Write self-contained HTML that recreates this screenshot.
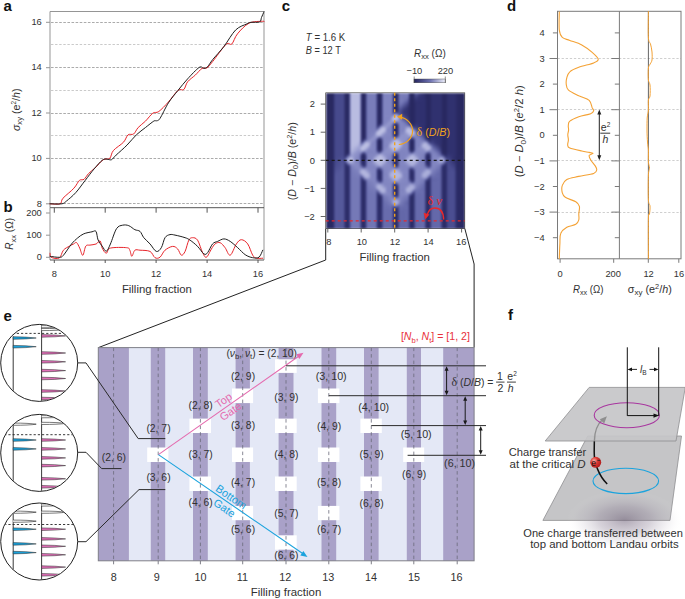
<!DOCTYPE html>
<html><head><meta charset="utf-8"><style>
html,body{margin:0;padding:0;background:#fff;}
#wrap{position:relative;width:685px;height:599px;overflow:hidden;background:#fff;}
svg{position:absolute;left:0;top:0;display:block;font-family:"Liberation Sans", sans-serif;}
</style></head><body><div id="wrap">
<div style="position:absolute;left:326px;top:93px;width:139px;height:136px;overflow:hidden"><div style="filter:blur(1.1px);margin:0"><div style="height:2px;background:linear-gradient(90deg,#2a2a63 0.0px,#282860 6.5px,#2c2c67 7.5px,#3e4182 8.5px,#474a8d 9.5px,#474a8d 16.5px,#474a8d 17.5px,#2a2a63 19.5px,#282860 22.5px,#3e4182 23.5px,#9ea2d3 24.5px,#b9bce1 25.5px,#b9bce1 33.5px,#8a8ec7 34.5px,#30306f 35.5px,#282860 36.5px,#282860 38.5px,#2e2f6c 39.5px,#5c60a2 40.5px,#797dba 41.5px,#797dba 49.5px,#5f62a5 50.5px,#2f306d 51.5px,#282860 52.5px,#282860 54.5px,#2c2d69 55.5px,#585c9e 56.5px,#8185c1 57.5px,#8185c1 65.5px,#6e72b1 66.5px,#343675 67.5px,#282860 68.5px,#2a2b65 71.5px,#4a4d90 72.5px,#787cba 73.5px,#797dba 74.5px,#797dba 81.5px,#6e72b2 82.5px,#393b7b 83.5px,#282860 84.5px,#292962 87.5px,#3a3c7d 88.5px,#565a9c 89.5px,#3a3c7d 94.5px,#282860 100.5px,#282860 103.5px,#30316f 106.5px,#30316f 114.5px,#282860 117.5px,#282860 119.5px,#30316f 122.5px,#30316f 128.5px,#282860 132.5px,#292962 139.0px)"></div><div style="height:2px;background:linear-gradient(90deg,#2a2a63 0.0px,#282860 6.5px,#2c2c67 7.5px,#3e4182 8.5px,#474a8d 9.5px,#474a8d 16.5px,#474a8d 17.5px,#2a2a63 19.5px,#282860 22.5px,#3e4182 23.5px,#9ea2d3 24.5px,#b9bce1 25.5px,#b9bce1 33.5px,#8a8ec7 34.5px,#30306f 35.5px,#282860 36.5px,#282860 38.5px,#2e2f6c 39.5px,#5c60a2 40.5px,#797dba 41.5px,#797dba 49.5px,#5f62a5 50.5px,#2f306d 51.5px,#282860 52.5px,#282860 54.5px,#2c2d69 55.5px,#585c9e 56.5px,#8185c1 57.5px,#8185c1 65.5px,#6e72b1 66.5px,#343675 67.5px,#282860 68.5px,#2a2b65 71.5px,#4a4d90 72.5px,#787cba 73.5px,#797dba 74.5px,#787cba 81.5px,#6b6faf 82.5px,#373979 83.5px,#282860 84.5px,#292962 87.5px,#484b8d 89.5px,#333473 94.5px,#2f306f 98.5px,#282860 100.5px,#282860 103.5px,#30316f 106.5px,#30316f 114.5px,#282860 117.5px,#282860 119.5px,#30316f 122.5px,#30316f 128.5px,#282860 132.5px,#292962 139.0px)"></div><div style="height:2px;background:linear-gradient(90deg,#2a2a63 0.0px,#282860 6.5px,#2c2c67 7.5px,#3e4182 8.5px,#474a8d 9.5px,#474a8d 16.5px,#474a8d 17.5px,#2a2a63 19.5px,#282860 22.5px,#3e4182 23.5px,#9ea2d3 24.5px,#b9bce1 25.5px,#b9bce1 33.5px,#8a8ec7 34.5px,#30306f 35.5px,#282860 36.5px,#282860 38.5px,#2e2f6c 39.5px,#5c60a2 40.5px,#797dba 41.5px,#797dba 49.5px,#5f62a5 50.5px,#2f306d 51.5px,#282860 52.5px,#282860 54.5px,#2c2d69 55.5px,#585c9e 56.5px,#8185c1 57.5px,#8185c1 65.5px,#6e72b1 66.5px,#343675 67.5px,#282860 68.5px,#2a2b65 71.5px,#4a4d90 72.5px,#787cba 73.5px,#797dba 74.5px,#7175b4 81.5px,#6265a8 82.5px,#343575 83.5px,#282860 84.5px,#292961 87.5px,#3c3f80 89.5px,#303170 93.5px,#2f306f 98.5px,#282860 100.5px,#282860 103.5px,#30316f 106.5px,#30316f 114.5px,#282860 117.5px,#282860 119.5px,#30316f 122.5px,#30316f 128.5px,#282860 132.5px,#292962 139.0px)"></div><div style="height:2px;background:linear-gradient(90deg,#2a2a63 0.0px,#282860 6.5px,#2c2c67 7.5px,#3e4182 8.5px,#474a8d 9.5px,#474a8d 16.5px,#474a8d 17.5px,#2a2a63 19.5px,#282860 22.5px,#3e4182 23.5px,#9ea2d3 24.5px,#b9bce1 25.5px,#b9bce1 33.5px,#8a8ec7 34.5px,#30306f 35.5px,#282860 36.5px,#282860 38.5px,#2e2f6c 39.5px,#5c60a2 40.5px,#797dba 41.5px,#797dba 49.5px,#5f62a5 50.5px,#2f306d 51.5px,#282860 52.5px,#282860 54.5px,#2c2d69 55.5px,#585c9e 56.5px,#8185c1 57.5px,#8185c1 65.5px,#6e72b1 66.5px,#343675 67.5px,#282860 68.5px,#2a2b65 71.5px,#4a4d90 72.5px,#787cba 73.5px,#797dba 74.5px,#7579b7 78.5px,#6468a9 81.5px,#55599b 82.5px,#303170 83.5px,#282860 84.5px,#282961 87.5px,#343575 89.5px,#2f306f 98.5px,#282860 101.5px,#282860 103.5px,#30316f 106.5px,#30316f 114.5px,#282860 117.5px,#282860 119.5px,#30316f 122.5px,#30316f 128.5px,#282860 132.5px,#292962 139.0px)"></div><div style="height:2px;background:linear-gradient(90deg,#2a2a63 0.0px,#282860 6.5px,#2c2c67 7.5px,#3e4182 8.5px,#474a8d 9.5px,#474a8d 16.5px,#474a8d 17.5px,#2a2a63 19.5px,#282860 22.5px,#3e4182 23.5px,#9ea2d3 24.5px,#b9bce1 25.5px,#b9bce1 33.5px,#8a8ec7 34.5px,#30306f 35.5px,#282860 36.5px,#282860 38.5px,#2e2f6c 39.5px,#5c60a2 40.5px,#797dba 41.5px,#797dba 49.5px,#5f62a5 50.5px,#2f306d 51.5px,#282860 52.5px,#282860 54.5px,#2c2d69 55.5px,#585c9e 56.5px,#8185c1 57.5px,#8185c1 65.5px,#6e72b1 66.5px,#343675 67.5px,#282860 68.5px,#2a2b65 71.5px,#4a4d90 72.5px,#787cba 73.5px,#797dba 74.5px,#6f73b3 77.5px,#55589b 81.5px,#484b8d 82.5px,#2e2f6d 83.5px,#282860 84.5px,#282861 87.5px,#30316f 89.5px,#2f306f 98.5px,#282860 101.5px,#282860 103.5px,#30316f 106.5px,#30316f 114.5px,#282860 117.5px,#282860 119.5px,#30316f 122.5px,#30316f 128.5px,#282860 132.5px,#292962 139.0px)"></div><div style="height:2px;background:linear-gradient(90deg,#2a2a63 0.0px,#282860 6.5px,#2c2c67 7.5px,#3e4182 8.5px,#474a8d 9.5px,#474a8d 16.5px,#474a8d 17.5px,#2a2a63 19.5px,#282860 22.5px,#3e4182 23.5px,#9ea2d3 24.5px,#b9bce1 25.5px,#b9bce1 33.5px,#8a8ec7 34.5px,#30306f 35.5px,#282860 36.5px,#282860 38.5px,#2e2f6c 39.5px,#5c60a2 40.5px,#797dba 41.5px,#797dba 49.5px,#5f62a5 50.5px,#2f306d 51.5px,#282860 52.5px,#282860 54.5px,#2c2d69 55.5px,#585c9e 56.5px,#8185c1 57.5px,#8185c1 65.5px,#6e72b1 66.5px,#343675 67.5px,#282860 68.5px,#2a2b65 71.5px,#4a4d90 72.5px,#767ab8 73.5px,#686cad 76.5px,#46488b 81.5px,#3d3f80 82.5px,#2d2d6a 83.5px,#282860 84.5px,#282861 87.5px,#30316f 90.5px,#2f306f 98.5px,#282860 101.5px,#282860 103.5px,#30316f 106.5px,#30316f 114.5px,#282860 117.5px,#282860 119.5px,#30316f 122.5px,#30316f 128.5px,#282860 132.5px,#292962 139.0px)"></div><div style="height:2px;background:linear-gradient(90deg,#2a2a63 0.0px,#282860 6.5px,#2c2c67 7.5px,#3e4182 8.5px,#474a8d 9.5px,#474a8d 16.5px,#474a8d 17.5px,#2a2a63 19.5px,#282860 22.5px,#3e4182 23.5px,#9ea2d3 24.5px,#b9bce1 25.5px,#b9bce1 33.5px,#8a8ec7 34.5px,#30306f 35.5px,#282860 36.5px,#282860 38.5px,#2e2f6c 39.5px,#5c60a2 40.5px,#797dba 41.5px,#797dba 49.5px,#5f62a5 50.5px,#2f306d 51.5px,#282860 52.5px,#282860 54.5px,#2c2d69 55.5px,#585c9e 56.5px,#8185c1 57.5px,#8185c1 65.5px,#6e72b1 66.5px,#343675 67.5px,#282860 68.5px,#2a2b65 71.5px,#6d71b1 73.5px,#3b3d7e 81.5px,#282860 84.5px,#282861 87.5px,#30316f 90.5px,#2f306f 98.5px,#282860 101.5px,#282860 103.5px,#30316f 106.5px,#30316f 114.5px,#282860 117.5px,#282860 119.5px,#30316f 122.5px,#30316f 128.5px,#282860 132.5px,#292962 139.0px)"></div><div style="height:2px;background:linear-gradient(90deg,#2a2a63 0.0px,#282860 6.5px,#2c2c67 7.5px,#3e4182 8.5px,#474a8d 9.5px,#474a8d 16.5px,#474a8d 17.5px,#2a2a63 19.5px,#282860 22.5px,#3e4182 23.5px,#9ea2d3 24.5px,#b9bce1 25.5px,#b9bce1 33.5px,#8a8ec7 34.5px,#30306f 35.5px,#282860 36.5px,#282860 38.5px,#2e2f6c 39.5px,#5c60a2 40.5px,#797dba 41.5px,#797dba 49.5px,#5f62a5 50.5px,#2f306d 51.5px,#282860 52.5px,#282860 54.5px,#2c2d69 55.5px,#585c9e 56.5px,#8185c1 57.5px,#8185c1 65.5px,#6e72b1 66.5px,#343675 67.5px,#282860 68.5px,#2a2a64 71.5px,#5f63a5 73.5px,#3f4183 78.5px,#282860 84.5px,#282861 87.5px,#30316f 90.5px,#2f306f 98.5px,#282860 101.5px,#282860 103.5px,#30316f 106.5px,#30316f 114.5px,#282860 117.5px,#282860 119.5px,#30316f 122.5px,#30316f 128.5px,#282860 132.5px,#292962 139.0px)"></div><div style="height:2px;background:linear-gradient(90deg,#2a2a63 0.0px,#282860 6.5px,#2c2c67 7.5px,#3e4182 8.5px,#474a8d 9.5px,#474a8d 16.5px,#474a8d 17.5px,#2a2a63 19.5px,#282860 22.5px,#3e4182 23.5px,#9ea2d3 24.5px,#b9bce1 25.5px,#b9bce1 33.5px,#8a8ec7 34.5px,#30306f 35.5px,#282860 36.5px,#282860 38.5px,#2e2f6c 39.5px,#5c60a2 40.5px,#797dba 41.5px,#797dba 49.5px,#5f62a5 50.5px,#2f306d 51.5px,#282860 52.5px,#282860 54.5px,#2c2d69 55.5px,#585c9e 56.5px,#8185c1 57.5px,#8185c1 65.5px,#6d71b1 66.5px,#343575 67.5px,#292962 68.5px,#2a2a64 71.5px,#55589b 73.5px,#393b7c 77.5px,#2f306e 82.5px,#282860 84.5px,#282861 87.5px,#30316f 90.5px,#2f306f 98.5px,#282860 101.5px,#282860 103.5px,#30316f 106.5px,#30316f 114.5px,#282860 117.5px,#282860 119.5px,#30316f 122.5px,#30316f 128.5px,#282860 132.5px,#292962 139.0px)"></div><div style="height:2px;background:linear-gradient(90deg,#2a2a63 0.0px,#282860 6.5px,#2c2c67 7.5px,#3e4182 8.5px,#474a8d 9.5px,#474a8d 16.5px,#474a8d 17.5px,#2a2a63 19.5px,#282860 22.5px,#3e4182 23.5px,#9ea2d3 24.5px,#b9bce1 25.5px,#b9bce1 33.5px,#8a8ec7 34.5px,#30306f 35.5px,#282860 36.5px,#282860 38.5px,#2e2f6c 39.5px,#5c60a2 40.5px,#797dba 41.5px,#797dba 49.5px,#5f62a5 50.5px,#2f306d 51.5px,#282860 52.5px,#282860 54.5px,#2c2d69 55.5px,#585c9e 56.5px,#8185c1 57.5px,#8185c1 65.5px,#6d71b1 66.5px,#343575 67.5px,#393b7c 69.5px,#333473 71.5px,#515497 73.5px,#343675 77.5px,#2f306e 82.5px,#282860 84.5px,#282861 87.5px,#30316f 90.5px,#2f306f 98.5px,#282860 101.5px,#282860 103.5px,#30316f 106.5px,#30316f 114.5px,#282860 117.5px,#282860 119.5px,#30316f 122.5px,#30316f 128.5px,#282860 132.5px,#292962 139.0px)"></div><div style="height:2px;background:linear-gradient(90deg,#2a2a63 0.0px,#282860 6.5px,#2c2c67 7.5px,#3e4182 8.5px,#474a8d 9.5px,#474a8d 16.5px,#474a8d 17.5px,#2a2a63 19.5px,#282860 22.5px,#3e4182 23.5px,#9ea2d3 24.5px,#b9bce1 25.5px,#b9bce1 33.5px,#8a8ec7 34.5px,#30306f 35.5px,#282860 36.5px,#282860 38.5px,#2e2f6c 39.5px,#5c60a2 40.5px,#797dba 41.5px,#797dba 49.5px,#5f62a5 50.5px,#2f306d 51.5px,#282860 52.5px,#282860 54.5px,#2c2d69 55.5px,#585c9e 56.5px,#8185c1 57.5px,#8185c1 65.5px,#5f62a3 67.5px,#7579b7 68.5px,#7f83be 69.5px,#7c80bc 70.5px,#6c6fae 71.5px,#515597 72.5px,#56599c 73.5px,#393a7b 77.5px,#2f306e 82.5px,#282860 84.5px,#282861 87.5px,#30316f 90.5px,#2f306f 98.5px,#282860 101.5px,#282860 103.5px,#30316f 106.5px,#30316f 114.5px,#282860 117.5px,#282860 119.5px,#30316f 122.5px,#30316f 128.5px,#282860 132.5px,#292962 139.0px)"></div><div style="height:2px;background:linear-gradient(90deg,#2a2a63 0.0px,#282860 6.5px,#2c2c67 7.5px,#3e4182 8.5px,#474a8d 9.5px,#474a8d 16.5px,#474a8d 17.5px,#2a2a63 19.5px,#282860 22.5px,#3e4182 23.5px,#9ea2d3 24.5px,#b9bce1 25.5px,#b9bce1 33.5px,#8a8ec7 34.5px,#30306f 35.5px,#282860 36.5px,#282860 38.5px,#2e2f6c 39.5px,#5c60a2 40.5px,#797dba 41.5px,#797dba 49.5px,#5f62a5 50.5px,#2f306d 51.5px,#282860 52.5px,#282860 54.5px,#2c2d69 55.5px,#585c9e 56.5px,#8185c1 57.5px,#8387c1 66.5px,#b2b5de 68.5px,#b9bde2 69.5px,#b7bae1 70.5px,#a8acd9 71.5px,#9195cb 72.5px,#5a5ea0 74.5px,#3e4082 78.5px,#282860 84.5px,#282861 87.5px,#30316f 90.5px,#2f306f 98.5px,#282860 101.5px,#282860 103.5px,#30316f 106.5px,#30316f 114.5px,#282860 117.5px,#282860 119.5px,#30316f 122.5px,#30316f 128.5px,#282860 132.5px,#292962 139.0px)"></div><div style="height:2px;background:linear-gradient(90deg,#2a2a63 0.0px,#282860 6.5px,#2c2c67 7.5px,#3e4182 8.5px,#474a8d 9.5px,#474a8d 16.5px,#474a8d 17.5px,#2a2a63 19.5px,#282860 22.5px,#3e4182 23.5px,#9ea2d3 24.5px,#b9bce1 25.5px,#b9bce1 33.5px,#8a8ec7 34.5px,#30306f 35.5px,#282860 36.5px,#282860 38.5px,#2e2f6c 39.5px,#5c60a2 40.5px,#797dba 41.5px,#797dba 49.5px,#5f62a5 50.5px,#2f306d 51.5px,#282860 52.5px,#282860 54.5px,#2c2d69 55.5px,#585c9e 56.5px,#8185c1 57.5px,#8185c1 64.5px,#bdc0e4 67.5px,#bec1e4 71.5px,#acb0db 72.5px,#7276b5 74.5px,#6367a8 75.5px,#282860 84.5px,#282861 87.5px,#30316f 90.5px,#2f306f 98.5px,#282860 101.5px,#282860 103.5px,#30316f 106.5px,#30316f 114.5px,#282860 117.5px,#282860 119.5px,#30316f 122.5px,#30316f 128.5px,#282860 132.5px,#292962 139.0px)"></div><div style="height:2px;background:linear-gradient(90deg,#2a2a63 0.0px,#282860 6.5px,#2c2c67 7.5px,#3e4182 8.5px,#474a8d 9.5px,#474a8d 16.5px,#474a8d 17.5px,#2a2a63 19.5px,#282860 22.5px,#3e4182 23.5px,#9ea2d3 24.5px,#b9bce1 25.5px,#b9bce1 33.5px,#8a8ec7 34.5px,#30306f 35.5px,#282860 36.5px,#282860 38.5px,#2e2f6c 39.5px,#5c60a2 40.5px,#797dba 41.5px,#797dba 49.5px,#5f62a5 50.5px,#2f306d 51.5px,#282860 52.5px,#282860 54.5px,#2c2d69 55.5px,#585c9e 56.5px,#8185c1 57.5px,#8286c2 63.5px,#b1b4dd 67.5px,#bcbfe3 69.5px,#7478b7 75.5px,#45488b 81.5px,#3c3e7f 82.5px,#2d2d69 83.5px,#282860 84.5px,#282861 87.5px,#30316f 90.5px,#2f306f 98.5px,#282860 101.5px,#282860 103.5px,#30316f 106.5px,#30316f 114.5px,#282860 117.5px,#282860 119.5px,#30316f 122.5px,#30316f 128.5px,#282860 132.5px,#292962 139.0px)"></div><div style="height:2px;background:linear-gradient(90deg,#2a2a63 0.0px,#282860 6.5px,#2c2c67 7.5px,#3e4182 8.5px,#474a8d 9.5px,#474a8d 16.5px,#474a8d 17.5px,#2a2a63 19.5px,#282860 22.5px,#3e4182 23.5px,#9ea2d3 24.5px,#b9bce1 25.5px,#b9bce1 33.5px,#8a8ec7 34.5px,#30306f 35.5px,#282860 36.5px,#282860 38.5px,#2e2f6c 39.5px,#5c60a2 40.5px,#797dba 41.5px,#797dba 49.5px,#5f62a5 50.5px,#2f306d 51.5px,#282860 52.5px,#282860 54.5px,#2c2d69 55.5px,#585c9e 56.5px,#8185c1 57.5px,#8185c1 60.5px,#9195cb 63.5px,#969ace 67.5px,#8f93c9 68.5px,#7478b4 69.5px,#868ac4 72.5px,#7e82be 76.5px,#55599b 81.5px,#484b8d 82.5px,#2e2f6d 83.5px,#282961 84.5px,#282861 87.5px,#30316f 90.5px,#2f306f 98.5px,#282860 101.5px,#282860 103.5px,#30316f 106.5px,#30316f 114.5px,#282860 117.5px,#282860 119.5px,#30316f 122.5px,#30316f 128.5px,#282860 132.5px,#292962 139.0px)"></div><div style="height:2px;background:linear-gradient(90deg,#2a2a63 0.0px,#282860 6.5px,#2c2c67 7.5px,#3e4182 8.5px,#474a8d 9.5px,#474a8d 16.5px,#474a8d 17.5px,#2a2a63 19.5px,#282860 22.5px,#3e4182 23.5px,#9ea2d3 24.5px,#b9bce1 25.5px,#b9bce1 33.5px,#8a8ec7 34.5px,#30306f 35.5px,#282860 36.5px,#282860 38.5px,#2e2f6c 39.5px,#5c60a2 40.5px,#797dba 41.5px,#797dba 49.5px,#5f62a5 50.5px,#2f306d 51.5px,#282861 52.5px,#2a2a64 53.5px,#393a7b 55.5px,#8185c1 57.5px,#9397cc 62.5px,#8f93ca 65.5px,#7d81bd 66.5px,#414384 68.5px,#2f306d 69.5px,#343674 70.5px,#484a8c 71.5px,#8185c1 73.5px,#8387c2 75.5px,#7e82be 78.5px,#666aac 81.5px,#575a9d 82.5px,#393b7c 83.5px,#292962 86.5px,#282961 87.5px,#333474 89.5px,#2f306f 98.5px,#282860 101.5px,#282860 103.5px,#30316f 106.5px,#30316f 114.5px,#282860 117.5px,#282860 119.5px,#30316f 122.5px,#30316f 128.5px,#282860 132.5px,#292962 139.0px)"></div><div style="height:2px;background:linear-gradient(90deg,#2a2a63 0.0px,#282860 6.5px,#2c2c67 7.5px,#3e4182 8.5px,#474a8d 9.5px,#474a8d 16.5px,#474a8d 17.5px,#2a2a63 19.5px,#282860 22.5px,#3e4182 23.5px,#9ea2d3 24.5px,#b9bce1 25.5px,#b9bce1 33.5px,#8a8ec7 34.5px,#30306f 35.5px,#282860 36.5px,#282860 38.5px,#2e2f6c 39.5px,#5c60a2 40.5px,#797dba 41.5px,#797dba 49.5px,#5f63a5 50.5px,#2f306d 51.5px,#333472 52.5px,#434687 53.5px,#7579b7 55.5px,#868ac3 56.5px,#9397cc 58.5px,#9296cc 62.5px,#8185c1 65.5px,#6e72b1 66.5px,#343675 67.5px,#292962 68.5px,#2b2c67 71.5px,#4f5295 72.5px,#8084c0 73.5px,#8286c1 76.5px,#7a7ebb 82.5px,#6265a5 84.5px,#383a7b 86.5px,#2d2e6a 87.5px,#2f306f 88.5px,#3c3e7f 89.5px,#303170 93.5px,#2f306f 98.5px,#282860 100.5px,#282860 103.5px,#30316f 106.5px,#30316f 114.5px,#282860 117.5px,#282860 119.5px,#30316f 122.5px,#30316f 128.5px,#282860 132.5px,#292962 139.0px)"></div><div style="height:2px;background:linear-gradient(90deg,#2a2a63 0.0px,#282860 6.5px,#2c2c67 7.5px,#3e4182 8.5px,#474a8d 9.5px,#474a8d 16.5px,#474a8d 17.5px,#2a2a63 19.5px,#282860 22.5px,#3e4182 23.5px,#9ea2d3 24.5px,#b9bce1 25.5px,#b9bce1 33.5px,#8a8ec7 34.5px,#30306f 35.5px,#282860 36.5px,#282860 38.5px,#2e2f6c 39.5px,#5c60a2 40.5px,#797dba 41.5px,#7a7ebb 49.5px,#47498b 51.5px,#8084bf 53.5px,#afb2dc 55.5px,#b9bde2 57.5px,#8488c2 62.5px,#8185c1 65.5px,#6e72b1 66.5px,#343675 67.5px,#282860 68.5px,#2b2b65 71.5px,#4f5295 72.5px,#8084c0 73.5px,#8286c1 78.5px,#afb3dc 82.5px,#b2b5de 83.5px,#8b8fc7 85.5px,#3c3e7f 88.5px,#474a8d 89.5px,#323372 94.5px,#2f306f 98.5px,#282860 100.5px,#282860 103.5px,#30316f 106.5px,#30316f 114.5px,#282860 117.5px,#282860 119.5px,#30316f 122.5px,#30316f 128.5px,#282860 132.5px,#292962 139.0px)"></div><div style="height:2px;background:linear-gradient(90deg,#2a2a63 0.0px,#282860 6.5px,#2c2c67 7.5px,#3e4182 8.5px,#474a8d 9.5px,#474a8d 16.5px,#474a8d 17.5px,#2a2a63 19.5px,#282860 22.5px,#3e4182 23.5px,#9ea2d3 24.5px,#b9bce1 25.5px,#b9bce1 33.5px,#8a8ec7 34.5px,#30306f 35.5px,#282860 36.5px,#282860 38.5px,#2e2f6c 39.5px,#5c60a2 40.5px,#797dba 41.5px,#7b7fbc 49.5px,#6c6faf 50.5px,#9da1d3 52.5px,#bcbfe3 54.5px,#bec1e4 58.5px,#adb1db 59.5px,#8c90c8 60.5px,#8185c1 61.5px,#8185c1 65.5px,#6e72b1 66.5px,#343675 67.5px,#282860 68.5px,#282860 70.5px,#2b2b65 71.5px,#4f5295 72.5px,#8084c0 73.5px,#8185c1 78.5px,#b2b6de 80.5px,#bec1e4 81.5px,#bec1e4 83.5px,#b5b8df 85.5px,#8e92c9 87.5px,#5b5fa1 89.5px,#525698 90.5px,#393b7c 94.5px,#2f306f 98.5px,#282860 100.5px,#282860 103.5px,#30316f 106.5px,#30316f 114.5px,#282860 117.5px,#282860 119.5px,#30316f 122.5px,#30316f 128.5px,#282860 132.5px,#292962 139.0px)"></div><div style="height:2px;background:linear-gradient(90deg,#2a2a63 0.0px,#282860 6.5px,#2c2c67 7.5px,#3e4182 8.5px,#474a8d 9.5px,#474a8d 16.5px,#474a8d 17.5px,#2a2a63 19.5px,#282860 22.5px,#3e4182 23.5px,#9ea2d3 24.5px,#b9bce1 25.5px,#b9bce1 33.5px,#8a8ec7 34.5px,#30306f 35.5px,#282860 36.5px,#282860 38.5px,#2e2f6c 39.5px,#5c60a2 40.5px,#797dba 41.5px,#7c80bd 48.5px,#868ac3 49.5px,#b3b6de 51.5px,#bcbfe3 52.5px,#bec1e4 56.5px,#8185c1 61.5px,#8185c1 65.5px,#6e72b1 66.5px,#343675 67.5px,#282860 68.5px,#282860 70.5px,#2b2b65 71.5px,#4f5295 72.5px,#8084c0 73.5px,#8387c2 77.5px,#b8bbe1 81.5px,#bec1e4 85.5px,#b5b9e0 87.5px,#a5a9d7 88.5px,#6468aa 90.5px,#45478a 94.5px,#282860 100.5px,#282860 103.5px,#30316f 106.5px,#30316f 114.5px,#282860 117.5px,#282860 119.5px,#30316f 122.5px,#30316f 128.5px,#282860 132.5px,#292962 139.0px)"></div><div style="height:2px;background:linear-gradient(90deg,#2a2a63 0.0px,#282860 6.5px,#2c2c67 7.5px,#3e4182 8.5px,#474a8d 9.5px,#474a8d 16.5px,#474a8d 17.5px,#2a2a63 19.5px,#282860 22.5px,#3e4182 23.5px,#9ea2d3 24.5px,#b9bce1 25.5px,#b9bce1 33.5px,#8a8ec7 34.5px,#30306f 35.5px,#282860 36.5px,#282860 38.5px,#2e2f6c 39.5px,#5c60a2 40.5px,#797dba 41.5px,#8185c1 48.5px,#adb1dc 50.5px,#babde2 51.5px,#bec1e4 53.5px,#bcbfe3 54.5px,#a0a4d5 56.5px,#8488c3 59.5px,#8185c1 65.5px,#6e72b1 66.5px,#343675 67.5px,#282860 68.5px,#282860 70.5px,#2b2b65 71.5px,#4f5295 72.5px,#8084c0 73.5px,#9498cd 80.5px,#b5b8e0 83.5px,#bec1e4 85.5px,#bdc0e3 86.5px,#b0b3dd 87.5px,#777bb9 90.5px,#6c70b0 91.5px,#393b7c 98.5px,#282861 100.5px,#282860 103.5px,#30316f 106.5px,#30316f 114.5px,#282860 117.5px,#282860 119.5px,#30316f 122.5px,#30316f 128.5px,#282860 132.5px,#292962 139.0px)"></div><div style="height:2px;background:linear-gradient(90deg,#2a2a63 0.0px,#282860 6.5px,#2c2c67 7.5px,#3e4182 8.5px,#474a8d 9.5px,#474a8d 16.5px,#474a8d 17.5px,#2a2a63 19.5px,#282860 22.5px,#3e4182 23.5px,#9ea2d3 24.5px,#b9bce1 25.5px,#b9bce1 33.5px,#8a8ec7 34.5px,#30306f 35.5px,#282860 36.5px,#282860 38.5px,#2e2f6c 39.5px,#5c60a2 40.5px,#7a7ebb 41.5px,#8084c0 46.5px,#a9add9 52.5px,#8488c2 57.5px,#8185c1 65.5px,#6f73b2 66.5px,#484b8d 67.5px,#343675 68.5px,#2b2b66 69.5px,#30316e 70.5px,#424485 71.5px,#8589c4 73.5px,#9094cb 75.5px,#8e92ca 81.5px,#a5a9d7 84.5px,#a1a5d4 85.5px,#9397cc 86.5px,#7579b7 92.5px,#5e62a4 95.5px,#44478a 98.5px,#2f306d 99.5px,#282861 100.5px,#282860 103.5px,#30316f 106.5px,#30316f 114.5px,#282860 117.5px,#282860 119.5px,#30316f 122.5px,#30316f 128.5px,#282860 132.5px,#292962 139.0px)"></div><div style="height:2px;background:linear-gradient(90deg,#2a2a63 0.0px,#282860 6.5px,#2c2c67 7.5px,#3e4182 8.5px,#474a8d 9.5px,#474a8d 16.5px,#474a8d 17.5px,#2a2a63 19.5px,#282860 22.5px,#3e4182 23.5px,#9ea2d3 24.5px,#b9bce1 25.5px,#b9bce1 33.5px,#8a8ec7 34.5px,#30306f 35.5px,#282860 36.5px,#2a2a64 38.5px,#2f306e 39.5px,#5d61a3 40.5px,#7c80bc 41.5px,#7d81bd 43.5px,#9094cb 47.5px,#8b8fc8 50.5px,#7a7eba 51.5px,#414384 53.5px,#676bab 55.5px,#8185c1 57.5px,#8084c0 66.5px,#7c80bc 67.5px,#6e72b0 68.5px,#545798 69.5px,#8589c3 71.5px,#8e92ca 72.5px,#9094cb 74.5px,#8b8fc7 82.5px,#7d81bd 83.5px,#484a8b 85.5px,#46488a 86.5px,#5c60a2 87.5px,#7d81bd 89.5px,#7b7fbc 93.5px,#54579a 98.5px,#323473 99.5px,#292961 101.5px,#282860 103.5px,#303170 105.5px,#30316f 114.5px,#282860 117.5px,#282860 119.5px,#30316f 122.5px,#30316f 128.5px,#282860 132.5px,#292962 139.0px)"></div><div style="height:2px;background:linear-gradient(90deg,#2a2a63 0.0px,#282860 6.5px,#2c2c67 7.5px,#3e4182 8.5px,#474a8d 9.5px,#474a8d 16.5px,#474a8d 17.5px,#2a2a63 19.5px,#282860 22.5px,#3e4182 23.5px,#9ea2d3 24.5px,#b9bce1 25.5px,#b9bce1 32.5px,#b9bce1 33.5px,#898dc7 34.5px,#2f306f 35.5px,#2b2b66 36.5px,#414485 38.5px,#7e82be 41.5px,#8f93ca 44.5px,#8f93ca 46.5px,#8387c2 49.5px,#6569ab 50.5px,#3a3c7d 51.5px,#2c2d69 52.5px,#292962 53.5px,#2b2b66 54.5px,#343674 55.5px,#8185c1 57.5px,#8488c3 65.5px,#b6b9e0 70.5px,#9195cb 74.5px,#8e92c9 79.5px,#8488c3 81.5px,#7579b7 82.5px,#444789 83.5px,#2f306d 84.5px,#292a63 85.5px,#30316e 87.5px,#484b8d 88.5px,#7d81bd 89.5px,#8185c1 92.5px,#7074b3 97.5px,#6468a9 98.5px,#404384 100.5px,#2a2a63 103.5px,#363878 105.5px,#30316f 114.5px,#282860 117.5px,#282860 119.5px,#30316f 122.5px,#30316f 128.5px,#282860 132.5px,#292962 139.0px)"></div><div style="height:2px;background:linear-gradient(90deg,#2a2a63 0.0px,#282860 6.5px,#2c2c67 7.5px,#3e4182 8.5px,#474a8d 9.5px,#474a8d 16.5px,#474a8d 17.5px,#2a2a63 19.5px,#282860 22.5px,#3e4182 23.5px,#9ea2d3 24.5px,#b9bce1 25.5px,#b9bce1 30.5px,#b6b9e0 33.5px,#868ac4 34.5px,#363777 35.5px,#484a8c 36.5px,#8084bf 38.5px,#989ccf 39.5px,#a4a8d6 40.5px,#a6a9d7 41.5px,#8185c1 47.5px,#8185c1 49.5px,#6468aa 50.5px,#2f306e 51.5px,#282860 52.5px,#282860 54.5px,#2c2d69 55.5px,#585c9e 56.5px,#8185c1 57.5px,#8589c3 63.5px,#a1a5d5 66.5px,#bec1e4 68.5px,#bec1e4 70.5px,#b9bce2 72.5px,#9094cb 76.5px,#8185c1 81.5px,#7579b7 82.5px,#3b3d7e 83.5px,#282860 84.5px,#292962 87.5px,#45488b 88.5px,#7d81bd 89.5px,#8185c0 95.5px,#8e92c9 98.5px,#8e92c8 99.5px,#8387c1 100.5px,#3a3c7d 103.5px,#303170 104.5px,#404384 105.5px,#323373 109.5px,#30316f 114.5px,#282860 117.5px,#282860 119.5px,#30316f 122.5px,#30316f 128.5px,#282860 132.5px,#292962 139.0px)"></div><div style="height:2px;background:linear-gradient(90deg,#2a2a63 0.0px,#282860 6.5px,#2c2c67 7.5px,#3e4182 8.5px,#474a8d 9.5px,#474a8d 16.5px,#474a8d 17.5px,#2a2a63 19.5px,#282860 22.5px,#3e4182 23.5px,#9ea2d3 24.5px,#b9bce1 25.5px,#b8bbe1 30.5px,#afb2dc 33.5px,#7e82be 34.5px,#666aaa 35.5px,#8488c2 36.5px,#afb3dd 38.5px,#bec1e4 40.5px,#b8bbe1 42.5px,#abaeda 43.5px,#8185c1 45.5px,#8185c1 49.5px,#6468aa 50.5px,#2f306e 51.5px,#282860 52.5px,#282860 54.5px,#2c2d69 55.5px,#585c9e 56.5px,#8185c1 57.5px,#8387c2 62.5px,#bec1e4 66.5px,#bec1e4 73.5px,#afb3dd 75.5px,#8488c3 77.5px,#8185c1 81.5px,#7579b7 82.5px,#3b3d7e 83.5px,#282860 84.5px,#292962 87.5px,#45488b 88.5px,#7d81bd 89.5px,#8185c1 94.5px,#b5b9e0 98.5px,#b6b9e0 99.5px,#9ea2d3 101.5px,#898dc6 102.5px,#525698 104.5px,#363777 110.5px,#30316f 114.5px,#282860 117.5px,#282860 119.5px,#30316f 122.5px,#30316f 128.5px,#282860 132.5px,#292962 139.0px)"></div><div style="height:2px;background:linear-gradient(90deg,#2a2a63 0.0px,#282860 6.5px,#2c2c67 7.5px,#3e4182 8.5px,#474a8d 9.5px,#474a8d 16.5px,#474a8d 17.5px,#2a2a63 19.5px,#282860 22.5px,#3e4182 23.5px,#9ea2d3 24.5px,#b9bce1 25.5px,#b5b8df 29.5px,#a5a9d7 33.5px,#888cc4 34.5px,#b1b5de 36.5px,#bbbee3 37.5px,#bec1e4 40.5px,#bcbfe3 41.5px,#afb3dd 42.5px,#8488c3 44.5px,#8185c1 49.5px,#6468aa 50.5px,#2f306e 51.5px,#282860 52.5px,#282860 54.5px,#2c2d69 55.5px,#585c9e 56.5px,#8185c1 57.5px,#8185c1 61.5px,#898dc6 62.5px,#a6aad8 63.5px,#b9bce2 64.5px,#bec1e4 65.5px,#bec1e4 73.5px,#a1a5d5 75.5px,#888cc5 76.5px,#8185c1 81.5px,#7579b7 82.5px,#3b3d7e 83.5px,#282860 84.5px,#292962 87.5px,#45488b 88.5px,#7d81bd 89.5px,#8185c1 94.5px,#adb1dc 96.5px,#b7bbe1 98.5px,#aeb2dc 102.5px,#8c90c8 104.5px,#5c60a2 106.5px,#4c4f92 108.5px,#292961 116.5px,#282860 119.5px,#30316f 122.5px,#30316f 128.5px,#282860 132.5px,#292962 139.0px)"></div><div style="height:2px;background:linear-gradient(90deg,#2a2a63 0.0px,#282860 6.5px,#2c2c67 7.5px,#3e4182 8.5px,#474a8d 9.5px,#474a8d 16.5px,#474a8d 17.5px,#2a2a63 19.5px,#282860 22.5px,#3e4182 23.5px,#9da1d3 24.5px,#b8bce1 25.5px,#9b9fd2 33.5px,#bcbfe3 35.5px,#bec1e4 38.5px,#babde2 39.5px,#888cc5 43.5px,#8185c1 49.5px,#6468aa 50.5px,#2f306e 51.5px,#282860 52.5px,#282860 54.5px,#2c2d69 55.5px,#585c9e 56.5px,#8185c1 57.5px,#8488c3 60.5px,#8f93ca 62.5px,#bdc0e3 67.5px,#bec1e4 70.5px,#bdc0e3 71.5px,#a0a4d4 73.5px,#8387c2 76.5px,#8185c1 81.5px,#7579b7 82.5px,#3b3d7e 83.5px,#282860 84.5px,#292962 87.5px,#45488b 88.5px,#7d81bd 89.5px,#8c90c8 95.5px,#acafdb 98.5px,#b6b9e0 100.5px,#b4b7df 103.5px,#a4a8d7 104.5px,#6d71b1 106.5px,#363878 114.5px,#292961 116.5px,#282860 119.5px,#30316f 122.5px,#30316f 128.5px,#282860 132.5px,#292962 139.0px)"></div><div style="height:2px;background:linear-gradient(90deg,#2a2a63 0.0px,#282860 6.5px,#2c2c67 7.5px,#3e4182 8.5px,#474a8d 9.5px,#474a8d 16.5px,#474a8d 17.5px,#2a2a63 19.5px,#282860 22.5px,#3e4082 23.5px,#9ca0d2 24.5px,#b4b7df 25.5px,#9599ce 33.5px,#b8bbe1 36.5px,#b6bae0 37.5px,#9094cb 40.5px,#8185c1 42.5px,#8185c1 49.5px,#6468aa 50.5px,#333473 51.5px,#2a2a64 52.5px,#2a2a63 54.5px,#313270 55.5px,#585c9e 56.5px,#8185c1 57.5px,#8d91c9 60.5px,#8e92ca 64.5px,#b5b9e0 68.5px,#b9bce1 69.5px,#9ea2d3 71.5px,#8387c2 74.5px,#8185c1 81.5px,#7579b7 82.5px,#3c3e7f 83.5px,#2b2b66 84.5px,#282961 85.5px,#2c2d69 87.5px,#45488b 88.5px,#7d81bd 89.5px,#878bc5 92.5px,#898dc6 97.5px,#b1b4dd 101.5px,#8185c0 105.5px,#666aac 109.5px,#404385 114.5px,#2f306e 115.5px,#292961 116.5px,#282860 119.5px,#30316f 122.5px,#30316f 128.5px,#282860 132.5px,#292962 139.0px)"></div><div style="height:2px;background:linear-gradient(90deg,#2a2a63 0.0px,#282860 6.5px,#2c2c67 7.5px,#3e4182 8.5px,#474a8d 9.5px,#474a8d 16.5px,#474a8d 17.5px,#2a2a63 19.5px,#282861 22.5px,#3d3f81 23.5px,#969acf 24.5px,#acb0db 25.5px,#8f93ca 31.5px,#8f93ca 35.5px,#8286c0 36.5px,#6568a8 37.5px,#7f83bf 39.5px,#8185c1 49.5px,#5d61a3 51.5px,#343574 53.5px,#7e82be 56.5px,#8b8fc7 57.5px,#8f93ca 67.5px,#888cc4 68.5px,#6f73b1 69.5px,#7174b2 70.5px,#7e82be 71.5px,#8185c1 81.5px,#777bb9 82.5px,#373978 85.5px,#3e4081 86.5px,#7276b5 88.5px,#8387c2 89.5px,#868ac4 99.5px,#8387c1 100.5px,#6165a5 102.5px,#7276b5 103.5px,#8185c0 106.5px,#6f73b3 110.5px,#4f5295 114.5px,#343575 115.5px,#292962 116.5px,#282860 119.5px,#30316f 122.5px,#30316f 128.5px,#282860 132.5px,#292962 139.0px)"></div><div style="height:2px;background:linear-gradient(90deg,#2a2a63 0.0px,#282860 6.5px,#2c2c67 7.5px,#3e4182 8.5px,#474a8d 9.5px,#474a8d 17.5px,#2a2a63 19.5px,#2b2b66 21.5px,#404284 23.5px,#8f93ca 24.5px,#a2a6d6 25.5px,#8f93ca 29.5px,#878bc5 33.5px,#6f73b2 34.5px,#393a7a 36.5px,#2c2d68 37.5px,#4c4f91 39.5px,#696dae 40.5px,#8185c1 41.5px,#8185c0 50.5px,#8b8fc6 52.5px,#8084be 53.5px,#9a9ed0 54.5px,#9a9ed1 55.5px,#8d91c9 57.5px,#888cc6 65.5px,#7a7ebb 66.5px,#3e4081 68.5px,#2f2f6c 69.5px,#333473 70.5px,#454789 71.5px,#5d61a2 72.5px,#8084c0 73.5px,#8185c1 81.5px,#7c80bc 82.5px,#888cc5 84.5px,#7d81bc 85.5px,#9195ca 86.5px,#979bcf 87.5px,#898dc6 89.5px,#7e82be 98.5px,#424486 100.5px,#313270 101.5px,#2e2f6c 102.5px,#4f5294 104.5px,#787cb9 105.5px,#8185c1 107.5px,#7c80bd 110.5px,#6063a6 114.5px,#3c3e7f 115.5px,#313270 116.5px,#2a2a63 118.5px,#282860 119.5px,#313372 121.5px,#323372 122.5px,#30316f 128.5px,#282860 132.5px,#292962 139.0px)"></div><div style="height:2px;background:linear-gradient(90deg,#2a2a63 0.0px,#282860 6.5px,#2c2c67 7.5px,#3e4182 8.5px,#474a8d 9.5px,#484b8e 17.5px,#2c2c68 19.5px,#484b8d 21.5px,#8f93ca 24.5px,#999dd0 25.5px,#8185c1 33.5px,#5b5fa1 34.5px,#2d2e6b 35.5px,#282861 36.5px,#282961 38.5px,#2e2f6d 39.5px,#6165a7 40.5px,#8185c1 41.5px,#8488c2 48.5px,#a0a4d4 51.5px,#bdc0e3 53.5px,#b4b7df 55.5px,#8d91c9 59.5px,#8185c1 65.5px,#6e72b1 66.5px,#343675 67.5px,#292962 68.5px,#2b2c66 71.5px,#4f5295 72.5px,#8084c0 73.5px,#8185c1 80.5px,#9a9ed1 83.5px,#b6bae0 85.5px,#b8bbe1 86.5px,#888cc5 91.5px,#7c80bc 98.5px,#434588 99.5px,#2a2a64 100.5px,#292963 103.5px,#3e4081 104.5px,#787cb9 105.5px,#8185c1 106.5px,#8185c1 109.5px,#7377b6 114.5px,#5b5fa0 116.5px,#2f306d 119.5px,#2d2e6a 120.5px,#393b7b 121.5px,#30316f 128.5px,#292962 131.5px,#292962 139.0px)"></div><div style="height:2px;background:linear-gradient(90deg,#2a2a63 0.0px,#282860 6.5px,#2c2c67 7.5px,#3e4182 8.5px,#474a8d 9.5px,#4c4f92 17.5px,#3a3c7d 18.5px,#494c8e 19.5px,#8387c1 21.5px,#adb1dc 23.5px,#b6b9e0 24.5px,#b2b5de 25.5px,#868ac4 29.5px,#8185c1 33.5px,#5b5fa1 34.5px,#2d2e6a 35.5px,#282860 36.5px,#282860 38.5px,#2e2f6d 39.5px,#6165a7 40.5px,#8185c1 41.5px,#8387c2 46.5px,#bdc0e4 51.5px,#bdc0e4 55.5px,#b5b8e0 57.5px,#868ac4 61.5px,#8185c1 65.5px,#6e72b1 66.5px,#343675 67.5px,#282860 68.5px,#2b2b65 71.5px,#4f5295 72.5px,#8084c0 73.5px,#8185c1 78.5px,#9b9fd2 81.5px,#b8bbe1 83.5px,#babde2 84.5px,#b7bbe1 88.5px,#a8acd9 90.5px,#8387c2 93.5px,#7c80bc 98.5px,#434588 99.5px,#292962 100.5px,#282861 103.5px,#3e4081 104.5px,#787cb9 105.5px,#8185c1 106.5px,#868ac4 112.5px,#a2a6d6 115.5px,#999dd0 116.5px,#8589c3 117.5px,#393b7c 120.5px,#404284 122.5px,#333474 125.5px,#292962 131.5px,#292962 139.0px)"></div><div style="height:2px;background:linear-gradient(90deg,#2a2a63 0.0px,#292961 6.5px,#2c2d69 7.5px,#3f4183 8.5px,#474a8d 9.5px,#505496 17.5px,#424587 18.5px,#8a8ec7 20.5px,#a5a9d8 21.5px,#b6b9e0 22.5px,#bbbee2 24.5px,#b7bbe1 26.5px,#a7abd9 27.5px,#878bc5 28.5px,#8185c1 33.5px,#5d61a3 34.5px,#2e2f6d 35.5px,#2a2a63 36.5px,#2a2a63 38.5px,#313270 39.5px,#6367a9 40.5px,#8185c1 41.5px,#8185c1 46.5px,#b1b4dd 48.5px,#bbbee2 49.5px,#bbbee2 57.5px,#aeb2dc 59.5px,#9195cc 60.5px,#8185c1 61.5px,#8185c1 65.5px,#6f73b2 66.5px,#373979 67.5px,#2a2a63 68.5px,#2c2d68 71.5px,#515597 72.5px,#8185c0 73.5px,#8185c1 78.5px,#b7bae1 81.5px,#b8bbe1 82.5px,#b4b8df 90.5px,#adb1dc 91.5px,#8185c1 93.5px,#7c80bc 98.5px,#45488b 99.5px,#2a2b65 100.5px,#2a2a64 103.5px,#404385 104.5px,#787cba 105.5px,#8185c1 106.5px,#8387c2 111.5px,#a9adda 113.5px,#acb0db 115.5px,#a2a6d6 117.5px,#8e92c9 118.5px,#4b4e91 120.5px,#292962 131.5px,#292962 139.0px)"></div><div style="height:2px;background:linear-gradient(90deg,#2a2a63 0.0px,#292962 6.5px,#2d2e6a 7.5px,#3f4283 8.5px,#474a8d 9.5px,#525598 17.5px,#414385 18.5px,#4e5194 19.5px,#8a8ec7 21.5px,#aeb2dc 23.5px,#b5b8df 24.5px,#a7aad8 26.5px,#8286c1 29.5px,#8185c1 33.5px,#5f63a5 34.5px,#303170 35.5px,#2b2c67 36.5px,#2b2c67 38.5px,#333474 39.5px,#6569aa 40.5px,#8185c1 41.5px,#8185c1 45.5px,#b5b9e0 50.5px,#b8bbe1 55.5px,#b3b7df 57.5px,#8488c2 61.5px,#8185c1 65.5px,#7074b3 66.5px,#3b3d7d 67.5px,#2b2c67 68.5px,#2e2e6b 71.5px,#8185c0 73.5px,#868ac4 78.5px,#9599ce 79.5px,#b5b8df 83.5px,#b0b3dd 89.5px,#8185c1 93.5px,#7c80bd 98.5px,#484b8e 99.5px,#2c2d68 100.5px,#2c2c67 103.5px,#434688 104.5px,#797dba 105.5px,#8185c1 106.5px,#8185c1 110.5px,#a5a9d7 115.5px,#8a8ec7 117.5px,#7276b5 118.5px,#3d4081 120.5px,#484b8e 121.5px,#474a8d 122.5px,#292962 131.5px,#292962 139.0px)"></div><div style="height:2px;background:linear-gradient(90deg,#2a2a63 0.0px,#292962 6.5px,#2d2e6a 7.5px,#3f4284 8.5px,#484b8e 9.5px,#525698 17.5px,#30316e 19.5px,#3a3c7d 20.5px,#8084bf 23.5px,#8f93ca 25.5px,#8185c1 33.5px,#5f63a5 34.5px,#353777 35.5px,#2d2e6a 36.5px,#2b2c67 38.5px,#333474 39.5px,#6569aa 40.5px,#8185c1 41.5px,#8387c2 46.5px,#b7bbe1 53.5px,#b2b5de 55.5px,#8a8ec7 59.5px,#8185c1 65.5px,#7074b3 66.5px,#3d3f81 67.5px,#2e2e6b 68.5px,#2b2c67 69.5px,#2e2e6b 71.5px,#8185c0 73.5px,#8589c3 79.5px,#b3b7df 85.5px,#afb3dd 87.5px,#8589c4 91.5px,#7c80bd 98.5px,#484b8e 99.5px,#2f306e 100.5px,#2c2c68 101.5px,#2c2c67 103.5px,#434688 104.5px,#797dba 105.5px,#8185c1 106.5px,#8488c2 113.5px,#8286c1 114.5px,#696dac 116.5px,#333472 119.5px,#323372 120.5px,#46498c 121.5px,#484b8e 122.5px,#393a7b 128.5px,#292962 131.5px,#292962 139.0px)"></div><div style="height:2px;background:linear-gradient(90deg,#2a2a63 0.0px,#292962 6.5px,#2d2e6a 7.5px,#404384 8.5px,#4a4d90 9.5px,#535799 17.5px,#2d2e6a 19.5px,#2d2e6b 21.5px,#414485 23.5px,#686cad 24.5px,#7d81bd 25.5px,#868ac5 29.5px,#8387c2 33.5px,#46498b 36.5px,#363878 37.5px,#313270 38.5px,#414485 39.5px,#6569ab 40.5px,#8185c1 41.5px,#8286c1 48.5px,#a2a6d5 54.5px,#898dc6 57.5px,#8488c2 65.5px,#767ab8 66.5px,#4c4f91 68.5px,#2f306e 70.5px,#3b3d7d 71.5px,#8185c0 73.5px,#8185c1 80.5px,#9fa3d3 86.5px,#8488c3 89.5px,#7c80bd 98.5px,#5e62a4 99.5px,#313270 102.5px,#353675 103.5px,#4a4d8f 104.5px,#797dba 105.5px,#8185c1 106.5px,#8185c1 108.5px,#7478b6 114.5px,#4a4d90 115.5px,#373979 116.5px,#2f2f6d 117.5px,#2b2c67 119.5px,#313271 120.5px,#45488a 121.5px,#4a4d90 122.5px,#3e4082 128.5px,#2b2c67 130.5px,#292962 131.5px,#292962 139.0px)"></div><div style="height:2px;background:linear-gradient(90deg,#2a2a63 0.0px,#292962 6.5px,#2d2e6a 7.5px,#414486 8.5px,#4c4f92 9.5px,#55589b 17.5px,#2d2e6a 19.5px,#2b2c67 22.5px,#373879 23.5px,#666aab 24.5px,#7a7ebb 25.5px,#868ac4 31.5px,#8488c2 35.5px,#6d70af 37.5px,#6c70af 38.5px,#7f83be 39.5px,#8286c1 40.5px,#8185c1 49.5px,#6e71b1 51.5px,#55589a 52.5px,#55599b 53.5px,#787cb9 55.5px,#868ac4 57.5px,#868ac4 65.5px,#8084bf 68.5px,#6367a7 70.5px,#7b7fbb 71.5px,#8286c1 72.5px,#8185c1 81.5px,#6f73b2 83.5px,#4e5193 85.5px,#6064a5 86.5px,#797dba 88.5px,#8185c1 90.5px,#8185c1 97.5px,#787cba 100.5px,#5c60a1 102.5px,#767ab8 104.5px,#8185c1 106.5px,#8084bf 108.5px,#6c70b1 114.5px,#46498c 115.5px,#2d2d6a 116.5px,#2b2c67 119.5px,#303170 120.5px,#45488a 121.5px,#4b4e91 123.5px,#434588 128.5px,#2c2c68 130.5px,#292a63 131.5px,#292962 139.0px)"></div><div style="height:2px;background:linear-gradient(90deg,#2a2a63 0.0px,#292962 6.5px,#2d2e6b 7.5px,#434688 8.5px,#4f5295 9.5px,#55599b 16.5px,#55599b 17.5px,#2d2e6a 19.5px,#2b2c67 22.5px,#363878 23.5px,#6468aa 24.5px,#777bb9 25.5px,#8286c1 32.5px,#abafda 36.5px,#acafdb 37.5px,#8488c3 42.5px,#8185c1 49.5px,#676bad 50.5px,#3a3b7c 51.5px,#2d2d6a 52.5px,#2f306d 53.5px,#393b7c 54.5px,#4b4e91 55.5px,#8185c1 57.5px,#898dc6 65.5px,#adb1dc 69.5px,#8185c1 75.5px,#8185c1 81.5px,#777bb8 82.5px,#424587 83.5px,#2e2e6b 84.5px,#2d2e6a 85.5px,#444688 87.5px,#56599c 88.5px,#7e82be 89.5px,#8185c1 97.5px,#a3a7d6 101.5px,#7f83bf 106.5px,#666aac 114.5px,#44478a 115.5px,#2d2d69 116.5px,#2b2c67 119.5px,#303170 120.5px,#45488a 121.5px,#4b4e91 125.5px,#474a8d 128.5px,#2d2d69 130.5px,#2a2a63 131.5px,#292963 139.0px)"></div><div style="height:2px;background:linear-gradient(90deg,#2a2a63 0.0px,#292962 6.5px,#2d2e6b 7.5px,#45488a 8.5px,#525598 9.5px,#56599c 14.5px,#55599b 17.5px,#2d2e6a 19.5px,#2b2c67 22.5px,#363878 23.5px,#6367a9 24.5px,#7579b7 25.5px,#7e82be 32.5px,#a6a9d8 34.5px,#b6b9e0 36.5px,#b0b3dd 39.5px,#8589c3 44.5px,#8185c1 49.5px,#676bad 50.5px,#353676 51.5px,#2b2c67 52.5px,#2b2c67 54.5px,#30316f 55.5px,#5c60a2 56.5px,#8185c1 57.5px,#868ac4 62.5px,#b2b5de 67.5px,#b6b9e0 70.5px,#868ac4 76.5px,#8185c1 81.5px,#777bb8 82.5px,#414385 83.5px,#2b2c67 84.5px,#2d2e6b 87.5px,#4b4e91 88.5px,#7e82be 89.5px,#8286c1 95.5px,#a7abd8 99.5px,#acb0db 101.5px,#aaaeda 103.5px,#7a7ebb 106.5px,#6367a9 114.5px,#2d2d69 116.5px,#2b2c67 119.5px,#303170 120.5px,#45488a 121.5px,#4b4e91 122.5px,#4b4e91 127.5px,#4a4d90 128.5px,#2d2e6a 130.5px,#2a2a63 131.5px,#2a2a63 139.0px)"></div><div style="height:2px;background:linear-gradient(90deg,#2a2a63 0.0px,#292962 6.5px,#2e2e6b 7.5px,#46498c 8.5px,#54579a 9.5px,#56599c 12.5px,#55599b 17.5px,#2d2e6a 19.5px,#2b2c67 22.5px,#363878 23.5px,#6367a9 24.5px,#7579b7 25.5px,#7c80bd 33.5px,#adb0db 36.5px,#b5b9e0 38.5px,#b1b4dd 41.5px,#9a9ed1 43.5px,#888cc5 44.5px,#8185c1 45.5px,#8185c1 49.5px,#676bad 50.5px,#353676 51.5px,#2b2c67 52.5px,#2b2c67 54.5px,#2f306e 55.5px,#5c60a2 56.5px,#8185c1 57.5px,#8185c1 61.5px,#b2b6de 65.5px,#b5b9e0 72.5px,#a9add9 74.5px,#8185c1 77.5px,#8185c1 81.5px,#777bb8 82.5px,#414385 83.5px,#2b2c67 84.5px,#2c2d69 87.5px,#4b4e91 88.5px,#7e82be 89.5px,#8185c1 94.5px,#a8acd9 97.5px,#acb0db 99.5px,#a7abd9 102.5px,#9da1d3 103.5px,#787cb9 105.5px,#676bac 110.5px,#6367a9 114.5px,#2d2d69 116.5px,#2b2c67 119.5px,#303170 120.5px,#45488a 121.5px,#4b4e91 122.5px,#4b4e91 127.5px,#4a4d90 128.5px,#2d2e6a 130.5px,#2a2a64 131.5px,#2a2a64 139.0px)"></div><div style="height:2px;background:linear-gradient(90deg,#2a2a63 0.0px,#292962 6.5px,#2e2e6c 7.5px,#484b8e 8.5px,#55599b 9.5px,#56599c 10.5px,#55599b 17.5px,#2d2e6a 19.5px,#2b2c67 22.5px,#363878 23.5px,#6367a9 24.5px,#7579b7 25.5px,#797dba 33.5px,#5c60a2 34.5px,#6c6faf 35.5px,#9b9fd2 37.5px,#aaaeda 38.5px,#b5b8df 40.5px,#b0b3dd 42.5px,#8185c1 45.5px,#8185c1 49.5px,#676bad 50.5px,#353676 51.5px,#2b2c67 52.5px,#2b2c67 54.5px,#2f306e 55.5px,#5c60a2 56.5px,#8185c1 57.5px,#8488c3 62.5px,#9a9ed1 63.5px,#b2b5de 65.5px,#b5b8df 72.5px,#b1b5de 74.5px,#a8abd9 75.5px,#8185c1 77.5px,#8185c1 81.5px,#777bb8 82.5px,#414385 83.5px,#2b2c67 84.5px,#2c2d69 87.5px,#4b4e91 88.5px,#7e82be 89.5px,#8185c1 94.5px,#9ea2d3 96.5px,#acb0db 98.5px,#a7aad8 100.5px,#9b9fd2 101.5px,#8a8ec6 102.5px,#575b9d 104.5px,#686cad 105.5px,#6c70b0 106.5px,#6367a9 114.5px,#2d2d69 116.5px,#2b2c67 119.5px,#303170 120.5px,#45488a 121.5px,#4b4e91 122.5px,#4b4e91 127.5px,#4a4d90 128.5px,#2d2e6a 130.5px,#2a2a64 131.5px,#2a2a64 139.0px)"></div><div style="height:2px;background:linear-gradient(90deg,#2a2a64 0.0px,#292962 6.5px,#2e2f6c 7.5px,#484b8e 8.5px,#56599c 9.5px,#55599b 17.5px,#2d2e6a 19.5px,#2b2c67 22.5px,#363878 23.5px,#6367a9 24.5px,#7579b7 25.5px,#767ab8 33.5px,#595d9f 34.5px,#393a7b 35.5px,#8286c1 38.5px,#989ccf 39.5px,#a3a6d6 40.5px,#a2a5d5 41.5px,#8286c1 45.5px,#8185c1 49.5px,#676bad 50.5px,#353676 51.5px,#2b2c67 52.5px,#2b2c67 54.5px,#2f306e 55.5px,#5c60a2 56.5px,#8185c1 57.5px,#8589c3 62.5px,#b4b8df 68.5px,#b0b4dd 72.5px,#8286c1 77.5px,#8185c1 81.5px,#777bb8 82.5px,#414385 83.5px,#2c2c67 84.5px,#2c2d69 87.5px,#4b4e91 88.5px,#7e82be 89.5px,#8185c1 94.5px,#969ace 98.5px,#9498cd 99.5px,#868ac4 100.5px,#3f4183 103.5px,#3d3f81 104.5px,#6266a8 105.5px,#666aac 106.5px,#6468aa 113.5px,#6367a9 114.5px,#2d2d69 116.5px,#2b2c67 117.5px,#2b2c67 119.5px,#303170 120.5px,#45488a 121.5px,#4b4e91 122.5px,#4b4e91 127.5px,#4a4d90 128.5px,#2d2e6a 130.5px,#2a2a64 131.5px,#2a2b65 139.0px)"></div><div style="height:2px;background:linear-gradient(90deg,#2a2a64 0.0px,#292962 6.5px,#2e2f6c 7.5px,#484b8e 8.5px,#56599c 9.5px,#55599b 17.5px,#2d2e6a 19.5px,#2b2c67 22.5px,#363878 23.5px,#6367a9 24.5px,#7579b7 25.5px,#7579b7 33.5px,#585b9e 34.5px,#2f306f 35.5px,#2d2e6b 36.5px,#373878 37.5px,#7e82be 41.5px,#8387c2 45.5px,#8185c1 49.5px,#676bad 50.5px,#46498b 51.5px,#2d2e6b 53.5px,#2b2c67 54.5px,#303170 55.5px,#5c60a2 56.5px,#8185c1 57.5px,#8488c3 64.5px,#aeb2dc 69.5px,#afb2dc 70.5px,#868ac4 74.5px,#8185c1 81.5px,#777bb8 82.5px,#4a4d90 83.5px,#393b7b 84.5px,#2c2c67 86.5px,#2d2e6b 87.5px,#4b4e91 88.5px,#7e82be 89.5px,#8185c1 93.5px,#7579b7 98.5px,#585b9e 99.5px,#3b3d7e 101.5px,#2c2d68 103.5px,#3c3e7f 104.5px,#5f63a5 105.5px,#6468aa 113.5px,#6367a9 114.5px,#2d2d69 116.5px,#2b2c67 117.5px,#2b2c67 119.5px,#303170 120.5px,#45488a 121.5px,#4b4e91 122.5px,#4b4e91 127.5px,#4a4d90 128.5px,#2d2e6a 130.5px,#2a2a64 131.5px,#2b2b65 139.0px)"></div><div style="height:2px;background:linear-gradient(90deg,#2a2a64 0.0px,#292962 6.5px,#2e2f6c 7.5px,#484b8e 8.5px,#56599c 9.5px,#55599b 17.5px,#2d2e6a 19.5px,#2b2c67 22.5px,#363878 23.5px,#6367a9 24.5px,#7579b7 25.5px,#7579b7 33.5px,#575b9d 34.5px,#2f306f 35.5px,#2b2c67 36.5px,#2c2d69 38.5px,#333473 39.5px,#5e61a4 40.5px,#797dba 41.5px,#8286c1 49.5px,#6f73b2 51.5px,#414485 54.5px,#595c9e 55.5px,#8185c1 57.5px,#868ac3 67.5px,#7579b6 69.5px,#8488c2 70.5px,#888cc5 71.5px,#8185c1 81.5px,#7074b3 83.5px,#3e4081 86.5px,#6367a8 88.5px,#7e82be 89.5px,#8185c1 91.5px,#797dba 96.5px,#6f73b2 98.5px,#424587 99.5px,#2d2e6b 100.5px,#2b2c67 101.5px,#2c2c67 103.5px,#3b3d7e 104.5px,#5e62a4 105.5px,#6468aa 106.5px,#6468aa 113.5px,#6367a9 114.5px,#2d2d69 116.5px,#2b2c67 117.5px,#2b2c67 119.5px,#303170 120.5px,#45488a 121.5px,#4b4e91 122.5px,#4b4e91 127.5px,#4a4d90 128.5px,#2d2e6a 130.5px,#2a2a64 131.5px,#2b2b65 139.0px)"></div><div style="height:2px;background:linear-gradient(90deg,#2a2a64 0.0px,#292962 6.5px,#2e2f6c 7.5px,#484b8e 8.5px,#56599c 9.5px,#55599b 17.5px,#2d2e6a 19.5px,#2b2c67 22.5px,#363878 23.5px,#6367a9 24.5px,#7579b7 25.5px,#7579b7 33.5px,#575b9d 34.5px,#2f306f 35.5px,#2b2c67 36.5px,#2b2c67 38.5px,#313271 39.5px,#5b5fa1 40.5px,#7579b7 41.5px,#8286c1 49.5px,#969ace 52.5px,#8185c1 58.5px,#8185c1 65.5px,#7074b3 66.5px,#4f5294 67.5px,#3a3b7c 68.5px,#393b7b 69.5px,#8185c0 73.5px,#8185c0 82.5px,#9195cb 84.5px,#9094ca 85.5px,#8185bf 86.5px,#8c90c8 87.5px,#8084bf 89.5px,#7b7fbc 93.5px,#696dae 98.5px,#414385 99.5px,#2c2c68 100.5px,#2c2c67 103.5px,#3b3d7e 104.5px,#5e62a4 105.5px,#6468aa 106.5px,#6468aa 113.5px,#6367a9 114.5px,#2d2d69 116.5px,#2b2c67 117.5px,#2b2c67 119.5px,#303170 120.5px,#45488a 121.5px,#4b4e91 122.5px,#4b4e91 127.5px,#4a4d90 128.5px,#2d2e6a 130.5px,#2a2a64 131.5px,#2b2b65 139.0px)"></div><div style="height:2px;background:linear-gradient(90deg,#2a2a64 0.0px,#292962 6.5px,#2e2f6c 7.5px,#484b8e 8.5px,#56599c 9.5px,#55599b 17.5px,#2d2e6a 19.5px,#2b2c67 22.5px,#363878 23.5px,#6367a9 24.5px,#7579b7 25.5px,#7579b7 33.5px,#575b9d 34.5px,#2f306f 35.5px,#2b2c67 36.5px,#2b2c67 38.5px,#313271 39.5px,#5a5da0 40.5px,#7276b5 41.5px,#7e82be 48.5px,#a7abd9 51.5px,#b2b6de 53.5px,#8488c2 59.5px,#8185c1 65.5px,#7074b3 66.5px,#3b3d7d 67.5px,#2b2c67 68.5px,#2d2e6b 70.5px,#363877 71.5px,#54579a 72.5px,#8185c0 73.5px,#8488c2 80.5px,#aeb1dc 85.5px,#a2a5d5 87.5px,#7d81bd 90.5px,#6569ab 98.5px,#404284 99.5px,#2c2c68 100.5px,#2c2c67 103.5px,#3b3d7e 104.5px,#5e62a4 105.5px,#6468aa 106.5px,#6468aa 113.5px,#6367a9 114.5px,#2d2d69 116.5px,#2b2c67 117.5px,#2b2c67 119.5px,#303170 120.5px,#45488a 121.5px,#4b4e91 122.5px,#4b4e91 127.5px,#4a4d90 128.5px,#2d2e6a 130.5px,#2a2a64 131.5px,#2b2b65 139.0px)"></div><div style="height:2px;background:linear-gradient(90deg,#2a2a64 0.0px,#292962 6.5px,#2e2f6c 7.5px,#484b8e 8.5px,#56599c 9.5px,#55599b 17.5px,#2d2e6a 19.5px,#2b2c67 22.5px,#363878 23.5px,#6367a9 24.5px,#7579b7 25.5px,#7579b7 33.5px,#575b9d 34.5px,#2f306f 35.5px,#2b2c67 36.5px,#2b2c67 38.5px,#313271 39.5px,#5a5da0 40.5px,#7175b4 41.5px,#7a7ebb 48.5px,#8185c0 49.5px,#a9add9 51.5px,#b2b6de 53.5px,#aeb2dc 56.5px,#8185c1 61.5px,#8185c1 65.5px,#7074b3 66.5px,#3b3d7d 67.5px,#2b2c67 68.5px,#2e2e6b 71.5px,#8185c0 73.5px,#8387c2 78.5px,#abafdb 82.5px,#afb2dc 84.5px,#a9adda 87.5px,#787cb9 90.5px,#6468aa 98.5px,#404284 99.5px,#2c2c68 100.5px,#2c2c67 103.5px,#3b3d7e 104.5px,#5e62a4 105.5px,#6468aa 106.5px,#6468aa 113.5px,#6367a9 114.5px,#2d2d69 116.5px,#2b2c67 117.5px,#2b2c67 119.5px,#303170 120.5px,#45488a 121.5px,#4b4e91 122.5px,#4b4e91 127.5px,#4a4d90 128.5px,#2d2e6a 130.5px,#2a2a64 131.5px,#2b2b65 139.0px)"></div><div style="height:2px;background:linear-gradient(90deg,#2a2a64 0.0px,#292962 6.5px,#2e2f6c 7.5px,#484b8e 8.5px,#56599c 9.5px,#55599b 17.5px,#2d2e6a 19.5px,#2b2c67 22.5px,#363878 23.5px,#6367a9 24.5px,#7579b7 25.5px,#7579b7 33.5px,#575b9d 34.5px,#2f306f 35.5px,#2b2c67 36.5px,#2b2c67 38.5px,#313271 39.5px,#5a5da0 40.5px,#7175b4 41.5px,#787cb9 49.5px,#6c70b0 50.5px,#a7abd8 53.5px,#b2b5de 55.5px,#afb2dc 58.5px,#a1a5d5 59.5px,#888cc5 60.5px,#8185c1 61.5px,#8185c1 65.5px,#7074b3 66.5px,#3b3d7d 67.5px,#2b2c67 68.5px,#2e2e6b 71.5px,#8185c0 73.5px,#8185c1 78.5px,#a9add9 80.5px,#afb3dc 81.5px,#a8acd9 85.5px,#8a8ec6 87.5px,#7175b4 88.5px,#6468aa 98.5px,#404284 99.5px,#2c2c68 100.5px,#2c2c67 103.5px,#3b3d7e 104.5px,#5e62a4 105.5px,#6468aa 106.5px,#6468aa 113.5px,#6367a9 114.5px,#2d2d69 116.5px,#2b2c67 117.5px,#2b2c67 119.5px,#303170 120.5px,#45488a 121.5px,#4b4e91 122.5px,#4b4e91 127.5px,#4a4d90 128.5px,#2d2e6a 130.5px,#2a2a64 131.5px,#2b2b65 139.0px)"></div><div style="height:2px;background:linear-gradient(90deg,#2a2a64 0.0px,#292962 6.5px,#2e2f6c 7.5px,#484b8e 8.5px,#56599c 9.5px,#55599b 17.5px,#2d2e6a 19.5px,#2b2c67 22.5px,#363878 23.5px,#6367a9 24.5px,#7579b7 25.5px,#7579b7 33.5px,#575b9d 34.5px,#2f306f 35.5px,#2b2c67 36.5px,#2b2c67 38.5px,#313271 39.5px,#5a5da0 40.5px,#7175b4 41.5px,#7478b6 49.5px,#4a4d8f 51.5px,#9599ce 54.5px,#adb1dc 56.5px,#adb0db 57.5px,#8185c1 61.5px,#8185c1 65.5px,#7074b3 66.5px,#3b3d7d 67.5px,#2b2c67 68.5px,#2e2e6b 71.5px,#8185c0 73.5px,#8286c1 78.5px,#a9add9 82.5px,#a7abd8 83.5px,#9a9ed1 84.5px,#878bc4 85.5px,#535799 87.5px,#46498b 88.5px,#6b6fb0 89.5px,#686cad 97.5px,#6468aa 98.5px,#404284 99.5px,#2c2c68 100.5px,#2c2c67 103.5px,#3b3d7e 104.5px,#5e62a4 105.5px,#6468aa 106.5px,#6468aa 113.5px,#6367a9 114.5px,#2d2d69 116.5px,#2b2c67 117.5px,#2b2c67 119.5px,#303170 120.5px,#45488a 121.5px,#4b4e91 122.5px,#4b4e91 127.5px,#4a4d90 128.5px,#2d2e6a 130.5px,#2a2a64 131.5px,#2b2b65 139.0px)"></div><div style="height:2px;background:linear-gradient(90deg,#2a2a64 0.0px,#292962 6.5px,#2e2f6c 7.5px,#484b8e 8.5px,#56599c 9.5px,#55599b 17.5px,#2d2e6a 19.5px,#2b2c67 22.5px,#363878 23.5px,#6367a9 24.5px,#7579b7 25.5px,#7579b7 33.5px,#575b9d 34.5px,#2f306f 35.5px,#2b2c67 36.5px,#2b2c67 38.5px,#313271 39.5px,#5a5da0 40.5px,#7175b4 41.5px,#7175b4 49.5px,#5d61a3 50.5px,#333473 51.5px,#363776 52.5px,#767ab7 55.5px,#898dc5 57.5px,#8185c1 65.5px,#7074b3 66.5px,#3c3e7f 67.5px,#2d2e6b 68.5px,#2b2c67 69.5px,#2e2e6b 71.5px,#8185c0 73.5px,#868ac4 81.5px,#767ab8 83.5px,#676aaa 84.5px,#3b3e7f 86.5px,#30316f 87.5px,#434588 88.5px,#676bac 89.5px,#686cad 97.5px,#6468aa 98.5px,#404284 99.5px,#2c2c68 100.5px,#2c2c67 103.5px,#3b3d7e 104.5px,#5e62a4 105.5px,#6468aa 106.5px,#6468aa 113.5px,#6367a9 114.5px,#2d2d69 116.5px,#2b2c67 117.5px,#2b2c67 119.5px,#303170 120.5px,#45488a 121.5px,#4b4e91 122.5px,#4b4e91 127.5px,#4a4d90 128.5px,#2d2e6a 130.5px,#2a2a64 131.5px,#2b2b65 139.0px)"></div><div style="height:2px;background:linear-gradient(90deg,#2a2a64 0.0px,#292962 6.5px,#2e2f6c 7.5px,#484b8e 8.5px,#56599c 9.5px,#55599b 17.5px,#2d2e6a 19.5px,#2b2c67 22.5px,#363878 23.5px,#6367a9 24.5px,#7579b7 25.5px,#7579b7 33.5px,#575b9d 34.5px,#2f306f 35.5px,#2b2c67 36.5px,#2b2c67 38.5px,#313271 39.5px,#5a5da0 40.5px,#7175b4 41.5px,#7175b4 49.5px,#5c60a2 50.5px,#323473 51.5px,#2b2c67 52.5px,#2d2d69 53.5px,#3b3d7e 55.5px,#777bb9 57.5px,#8185c1 63.5px,#8185c1 65.5px,#7377b5 66.5px,#484b8d 68.5px,#2f2f6d 70.5px,#393b7b 71.5px,#575a9d 72.5px,#8185c0 73.5px,#8185c1 75.5px,#777bb9 81.5px,#6b6faf 82.5px,#434587 83.5px,#353676 84.5px,#2b2c67 86.5px,#2c2d68 87.5px,#424486 88.5px,#6569ab 89.5px,#686cad 97.5px,#6468aa 98.5px,#404284 99.5px,#2c2c68 100.5px,#2c2c67 103.5px,#3b3d7e 104.5px,#5e62a4 105.5px,#6468aa 106.5px,#6468aa 113.5px,#6367a9 114.5px,#2d2d69 116.5px,#2b2c67 117.5px,#2b2c67 119.5px,#303170 120.5px,#45488a 121.5px,#4b4e91 122.5px,#4b4e91 127.5px,#4a4d90 128.5px,#2d2e6a 130.5px,#2a2a64 131.5px,#2b2b65 139.0px)"></div><div style="height:2px;background:linear-gradient(90deg,#2a2a64 0.0px,#292962 6.5px,#2e2f6c 7.5px,#484b8e 8.5px,#56599c 9.5px,#55599b 17.5px,#2d2e6a 19.5px,#2b2c67 22.5px,#363878 23.5px,#6367a9 24.5px,#7579b7 25.5px,#7579b7 33.5px,#575b9d 34.5px,#2f306f 35.5px,#2b2c67 36.5px,#2b2c67 38.5px,#313271 39.5px,#5a5da0 40.5px,#7175b4 41.5px,#7175b4 49.5px,#5c5fa2 50.5px,#323373 51.5px,#2b2c67 52.5px,#2b2c67 54.5px,#2f2f6d 55.5px,#515597 56.5px,#7175b4 57.5px,#8185c1 65.5px,#797dba 68.5px,#5e62a2 70.5px,#7579b7 71.5px,#8185c0 73.5px,#7074b3 81.5px,#6468aa 82.5px,#3b3d7e 83.5px,#2b2c67 84.5px,#2c2d68 87.5px,#414486 88.5px,#6569ab 89.5px,#686cad 97.5px,#6468aa 98.5px,#404284 99.5px,#2c2c68 100.5px,#2c2c67 103.5px,#3b3d7e 104.5px,#5e62a4 105.5px,#6468aa 106.5px,#6468aa 113.5px,#6367a9 114.5px,#2d2d69 116.5px,#2b2c67 117.5px,#2b2c67 119.5px,#303170 120.5px,#45488a 121.5px,#4b4e91 122.5px,#4b4e91 127.5px,#4a4d90 128.5px,#2d2e6a 130.5px,#2a2a64 131.5px,#2b2b65 139.0px)"></div><div style="height:2px;background:linear-gradient(90deg,#2a2a64 0.0px,#292962 6.5px,#2e2f6c 7.5px,#484b8e 8.5px,#56599c 9.5px,#55599b 17.5px,#2d2e6a 19.5px,#2b2c67 22.5px,#363878 23.5px,#6367a9 24.5px,#7579b7 25.5px,#7579b7 33.5px,#575b9d 34.5px,#2f306f 35.5px,#2b2c67 36.5px,#2b2c67 38.5px,#313271 39.5px,#5a5da0 40.5px,#7175b4 41.5px,#7175b4 49.5px,#5c5fa2 50.5px,#323373 51.5px,#2b2c67 52.5px,#2b2c67 54.5px,#2e2f6d 55.5px,#4f5295 56.5px,#6c70b0 57.5px,#8286c1 65.5px,#a7aad8 69.5px,#7f83bf 74.5px,#696dae 81.5px,#5f63a5 82.5px,#3a3c7d 83.5px,#2b2c67 84.5px,#2c2d68 87.5px,#414486 88.5px,#6569ab 89.5px,#686cad 97.5px,#6468aa 98.5px,#404284 99.5px,#2c2c68 100.5px,#2c2c67 103.5px,#3b3d7e 104.5px,#5e62a4 105.5px,#6468aa 106.5px,#6468aa 113.5px,#6367a9 114.5px,#2d2d69 116.5px,#2b2c67 117.5px,#2b2c67 119.5px,#303170 120.5px,#45488a 121.5px,#4b4e91 122.5px,#4b4e91 127.5px,#4a4d90 128.5px,#2d2e6a 130.5px,#2a2a64 131.5px,#2b2b65 139.0px)"></div><div style="height:2px;background:linear-gradient(90deg,#2a2a64 0.0px,#292962 6.5px,#2e2f6c 7.5px,#484b8e 8.5px,#56599c 9.5px,#55599b 17.5px,#2d2e6a 19.5px,#2b2c67 22.5px,#363878 23.5px,#6367a9 24.5px,#7579b7 25.5px,#7579b7 33.5px,#575b9d 34.5px,#2f306f 35.5px,#2b2c67 36.5px,#2b2c67 38.5px,#313271 39.5px,#5a5da0 40.5px,#7175b4 41.5px,#7175b4 49.5px,#5c5fa2 50.5px,#323373 51.5px,#2b2c67 52.5px,#2b2c67 54.5px,#2e2f6d 55.5px,#4e5194 56.5px,#696dae 57.5px,#797dba 64.5px,#8286c1 65.5px,#aaadda 67.5px,#afb3dd 69.5px,#acafdb 71.5px,#797dba 74.5px,#5d61a3 82.5px,#3a3b7c 83.5px,#2b2c67 84.5px,#2c2d68 87.5px,#414486 88.5px,#6569ab 89.5px,#686cad 97.5px,#6468aa 98.5px,#404284 99.5px,#2c2c68 100.5px,#2c2c67 103.5px,#3b3d7e 104.5px,#5e62a4 105.5px,#6468aa 106.5px,#6468aa 113.5px,#6367a9 114.5px,#2d2d69 116.5px,#2b2c67 117.5px,#2b2c67 119.5px,#303170 120.5px,#45488a 121.5px,#4b4e91 122.5px,#4b4e91 127.5px,#4a4d90 128.5px,#2d2e6a 130.5px,#2a2a64 131.5px,#2b2b65 139.0px)"></div><div style="height:2px;background:linear-gradient(90deg,#2a2a64 0.0px,#292962 6.5px,#2e2f6c 7.5px,#484b8e 8.5px,#56599c 9.5px,#55599b 17.5px,#2d2e6a 19.5px,#2b2c67 22.5px,#363878 23.5px,#6367a9 24.5px,#7579b7 25.5px,#7579b7 33.5px,#575b9d 34.5px,#2f306f 35.5px,#2b2c67 36.5px,#2b2c67 38.5px,#313271 39.5px,#5a5da0 40.5px,#7175b4 41.5px,#7175b4 49.5px,#5c5fa2 50.5px,#323373 51.5px,#2b2c67 52.5px,#2b2c67 54.5px,#2e2f6d 55.5px,#4e5194 56.5px,#686cad 57.5px,#767ab8 65.5px,#7e82be 66.5px,#a4a8d7 68.5px,#acafdb 69.5px,#9da1d3 71.5px,#787cb9 73.5px,#5d61a3 82.5px,#3a3b7c 83.5px,#2b2c67 84.5px,#2c2d68 87.5px,#414486 88.5px,#6569ab 89.5px,#686cad 97.5px,#6468aa 98.5px,#404284 99.5px,#2c2c68 100.5px,#2c2c67 103.5px,#3b3d7e 104.5px,#5e62a4 105.5px,#6468aa 106.5px,#6468aa 113.5px,#6367a9 114.5px,#2d2d69 116.5px,#2b2c67 117.5px,#2b2c67 119.5px,#303170 120.5px,#45488a 121.5px,#4b4e91 122.5px,#4b4e91 127.5px,#4a4d90 128.5px,#2d2e6a 130.5px,#2a2a64 131.5px,#2b2b65 139.0px)"></div><div style="height:2px;background:linear-gradient(90deg,#2a2a64 0.0px,#292962 6.5px,#2e2f6c 7.5px,#484b8e 8.5px,#56599c 9.5px,#55599b 17.5px,#2d2e6a 19.5px,#2b2c67 22.5px,#363878 23.5px,#6367a9 24.5px,#7579b7 25.5px,#7579b7 33.5px,#575b9d 34.5px,#2f306f 35.5px,#2b2c67 36.5px,#2b2c67 38.5px,#313271 39.5px,#5a5da0 40.5px,#7175b4 41.5px,#7175b4 49.5px,#5c5fa2 50.5px,#323373 51.5px,#2b2c67 52.5px,#2b2c67 54.5px,#2e2f6d 55.5px,#4e5194 56.5px,#686cad 57.5px,#6f73b3 65.5px,#5f63a4 67.5px,#7579b7 68.5px,#7f83be 69.5px,#7c80bc 70.5px,#55599b 72.5px,#6d71b1 73.5px,#6468aa 81.5px,#5d61a3 82.5px,#3a3b7c 83.5px,#2b2c67 84.5px,#2c2d68 87.5px,#414486 88.5px,#6569ab 89.5px,#686cad 97.5px,#6468aa 98.5px,#404284 99.5px,#2c2c68 100.5px,#2c2c67 103.5px,#3b3d7e 104.5px,#5e62a4 105.5px,#6468aa 106.5px,#6468aa 113.5px,#6367a9 114.5px,#2d2d69 116.5px,#2b2c67 117.5px,#2b2c67 119.5px,#303170 120.5px,#45488a 121.5px,#4b4e91 122.5px,#4b4e91 127.5px,#4a4d90 128.5px,#2d2e6a 130.5px,#2a2a64 131.5px,#2b2b65 139.0px)"></div><div style="height:2px;background:linear-gradient(90deg,#2a2a64 0.0px,#292962 6.5px,#2e2f6c 7.5px,#484b8e 8.5px,#56599c 9.5px,#55599b 17.5px,#2d2e6a 19.5px,#2b2c67 22.5px,#363878 23.5px,#6367a9 24.5px,#7579b7 25.5px,#7579b7 33.5px,#575b9d 34.5px,#2f306f 35.5px,#2b2c67 36.5px,#2b2c67 38.5px,#313271 39.5px,#5a5da0 40.5px,#7175b4 41.5px,#7175b4 49.5px,#5c5fa2 50.5px,#323373 51.5px,#2b2c67 52.5px,#2e2f6d 55.5px,#4e5194 56.5px,#686cad 57.5px,#6a6eaf 65.5px,#5e62a4 66.5px,#373979 67.5px,#3d3f80 69.5px,#363877 71.5px,#474b8d 72.5px,#676bac 73.5px,#6468aa 81.5px,#5d61a3 82.5px,#3a3b7c 83.5px,#2b2c67 84.5px,#2c2d68 87.5px,#414486 88.5px,#6569ab 89.5px,#686cad 97.5px,#6468aa 98.5px,#404284 99.5px,#2c2c68 100.5px,#2c2c67 103.5px,#3b3d7e 104.5px,#5e62a4 105.5px,#6468aa 106.5px,#6468aa 113.5px,#6367a9 114.5px,#2d2d69 116.5px,#2b2c67 117.5px,#2b2c67 119.5px,#303170 120.5px,#45488a 121.5px,#4b4e91 122.5px,#4b4e91 127.5px,#4a4d90 128.5px,#2d2e6a 130.5px,#2a2a64 131.5px,#2b2b65 139.0px)"></div><div style="height:2px;background:linear-gradient(90deg,#2a2a64 0.0px,#292962 6.5px,#2e2f6c 7.5px,#484b8e 8.5px,#56599c 9.5px,#55599b 17.5px,#2d2e6a 19.5px,#2b2c67 22.5px,#363878 23.5px,#6367a9 24.5px,#7579b7 25.5px,#7579b7 33.5px,#575b9d 34.5px,#2f306f 35.5px,#2b2c67 36.5px,#2b2c67 38.5px,#313271 39.5px,#5a5da0 40.5px,#7175b4 41.5px,#7175b4 49.5px,#5c5fa2 50.5px,#323373 51.5px,#2b2c67 52.5px,#2e2f6d 55.5px,#4e5194 56.5px,#686cad 57.5px,#686cad 65.5px,#5c60a2 66.5px,#363777 67.5px,#2b2c67 68.5px,#2d2e6a 71.5px,#6468aa 73.5px,#6468aa 81.5px,#5d61a3 82.5px,#3a3b7c 83.5px,#2b2c67 84.5px,#2b2c67 86.5px,#2c2d68 87.5px,#414486 88.5px,#6569ab 89.5px,#686cad 97.5px,#6468aa 98.5px,#404284 99.5px,#2c2c68 100.5px,#2c2c67 103.5px,#3b3d7e 104.5px,#5e62a4 105.5px,#6468aa 106.5px,#6468aa 113.5px,#6367a9 114.5px,#2d2d69 116.5px,#2b2c67 117.5px,#2b2c67 119.5px,#303170 120.5px,#45488a 121.5px,#4b4e91 122.5px,#4b4e91 127.5px,#4a4d90 128.5px,#2d2e6a 130.5px,#2a2a64 131.5px,#2b2b65 139.0px)"></div><div style="height:2px;background:linear-gradient(90deg,#2a2a64 0.0px,#292962 6.5px,#2e2f6c 7.5px,#484b8e 8.5px,#56599c 9.5px,#55599b 17.5px,#2d2e6a 19.5px,#2b2c67 22.5px,#363878 23.5px,#6367a9 24.5px,#7579b7 25.5px,#7579b7 33.5px,#575b9d 34.5px,#2f306f 35.5px,#2b2c67 36.5px,#2b2c67 38.5px,#313271 39.5px,#5a5da0 40.5px,#7175b4 41.5px,#7175b4 49.5px,#5c5fa2 50.5px,#323373 51.5px,#2b2c67 52.5px,#2e2f6d 55.5px,#4e5194 56.5px,#686cad 57.5px,#686cad 65.5px,#5c5fa2 66.5px,#363777 67.5px,#2b2c67 68.5px,#2d2e6a 71.5px,#6367a9 73.5px,#6468aa 81.5px,#5d61a3 82.5px,#3a3b7c 83.5px,#2b2c67 84.5px,#2b2c67 86.5px,#2c2d68 87.5px,#414486 88.5px,#6569ab 89.5px,#686cad 97.5px,#6468aa 98.5px,#404284 99.5px,#2c2c68 100.5px,#2c2c67 103.5px,#3b3d7e 104.5px,#5e62a4 105.5px,#6468aa 106.5px,#6468aa 113.5px,#6367a9 114.5px,#2d2d69 116.5px,#2b2c67 117.5px,#2b2c67 119.5px,#303170 120.5px,#45488a 121.5px,#4b4e91 122.5px,#4b4e91 127.5px,#4a4d90 128.5px,#2d2e6a 130.5px,#2a2a64 131.5px,#2b2b65 139.0px)"></div><div style="height:2px;background:linear-gradient(90deg,#2a2a64 0.0px,#292962 6.5px,#2e2f6c 7.5px,#484b8e 8.5px,#56599c 9.5px,#55599b 17.5px,#2d2e6a 19.5px,#2b2c67 22.5px,#363878 23.5px,#6367a9 24.5px,#7579b7 25.5px,#7579b7 33.5px,#575b9d 34.5px,#2f306f 35.5px,#2b2c67 36.5px,#2b2c67 38.5px,#313271 39.5px,#5a5da0 40.5px,#7175b4 41.5px,#7175b4 49.5px,#5c5fa2 50.5px,#323373 51.5px,#2b2c67 52.5px,#2e2f6d 55.5px,#4e5194 56.5px,#686cad 57.5px,#686cad 65.5px,#5c5fa2 66.5px,#363777 67.5px,#2b2c67 68.5px,#2d2e6a 71.5px,#6367a9 73.5px,#6468aa 81.5px,#5d61a3 82.5px,#3a3b7c 83.5px,#2b2c67 84.5px,#2b2c67 86.5px,#2c2d68 87.5px,#414486 88.5px,#6569ab 89.5px,#686cad 97.5px,#6468aa 98.5px,#404284 99.5px,#2c2c68 100.5px,#2c2c67 103.5px,#3b3d7e 104.5px,#5e62a4 105.5px,#6468aa 106.5px,#6468aa 113.5px,#6367a9 114.5px,#2d2d69 116.5px,#2b2c67 117.5px,#2b2c67 119.5px,#303170 120.5px,#45488a 121.5px,#4b4e91 122.5px,#4b4e91 127.5px,#4a4d90 128.5px,#2d2e6a 130.5px,#2a2a64 131.5px,#2b2b65 139.0px)"></div><div style="height:2px;background:linear-gradient(90deg,#2a2a64 0.0px,#292962 6.5px,#2e2f6c 7.5px,#484b8e 8.5px,#56599c 9.5px,#55599b 17.5px,#2d2e6a 19.5px,#2b2c67 22.5px,#363878 23.5px,#6367a9 24.5px,#7579b7 25.5px,#7579b7 33.5px,#575b9d 34.5px,#2f306f 35.5px,#2b2c67 36.5px,#2b2c67 38.5px,#313271 39.5px,#5a5da0 40.5px,#7175b4 41.5px,#7175b4 49.5px,#5c5fa2 50.5px,#323373 51.5px,#2b2c67 52.5px,#2e2f6d 55.5px,#4e5194 56.5px,#686cad 57.5px,#686cad 65.5px,#5c5fa2 66.5px,#363777 67.5px,#2b2c67 68.5px,#2d2e6a 71.5px,#6367a9 73.5px,#6468aa 81.5px,#5d61a3 82.5px,#3a3b7c 83.5px,#2b2c67 84.5px,#2b2c67 86.5px,#2c2d68 87.5px,#414486 88.5px,#6569ab 89.5px,#686cad 97.5px,#6468aa 98.5px,#404284 99.5px,#2c2c68 100.5px,#2c2c67 103.5px,#3b3d7e 104.5px,#5e62a4 105.5px,#6468aa 106.5px,#6468aa 113.5px,#6367a9 114.5px,#2d2d69 116.5px,#2b2c67 117.5px,#2b2c67 119.5px,#303170 120.5px,#45488a 121.5px,#4b4e91 122.5px,#4b4e91 127.5px,#4a4d90 128.5px,#2d2e6a 130.5px,#2a2a64 131.5px,#2b2b65 139.0px)"></div><div style="height:2px;background:linear-gradient(90deg,#2a2a64 0.0px,#292962 6.5px,#2e2f6c 7.5px,#484b8e 8.5px,#56599c 9.5px,#55599b 17.5px,#2d2e6a 19.5px,#2b2c67 22.5px,#363878 23.5px,#6367a9 24.5px,#7579b7 25.5px,#7579b7 33.5px,#575b9d 34.5px,#2f306f 35.5px,#2b2c67 36.5px,#2b2c67 38.5px,#313271 39.5px,#5a5da0 40.5px,#7175b4 41.5px,#7175b4 49.5px,#5c5fa2 50.5px,#323373 51.5px,#2b2c67 52.5px,#2e2f6d 55.5px,#4e5194 56.5px,#686cad 57.5px,#686cad 65.5px,#5c5fa2 66.5px,#363777 67.5px,#2b2c67 68.5px,#2d2e6a 71.5px,#6367a9 73.5px,#6468aa 81.5px,#5d61a3 82.5px,#3a3b7c 83.5px,#2b2c67 84.5px,#2b2c67 86.5px,#2c2d68 87.5px,#414486 88.5px,#6569ab 89.5px,#686cad 97.5px,#6468aa 98.5px,#404284 99.5px,#2c2c68 100.5px,#2c2c67 103.5px,#3b3d7e 104.5px,#5e62a4 105.5px,#6468aa 106.5px,#6468aa 113.5px,#6367a9 114.5px,#2d2d69 116.5px,#2b2c67 117.5px,#2b2c67 119.5px,#303170 120.5px,#45488a 121.5px,#4b4e91 122.5px,#4b4e91 127.5px,#4a4d90 128.5px,#2d2e6a 130.5px,#2a2a64 131.5px,#2b2b65 139.0px)"></div><div style="height:2px;background:linear-gradient(90deg,#2a2a64 0.0px,#292962 6.5px,#2e2f6c 7.5px,#484b8e 8.5px,#56599c 9.5px,#55599b 17.5px,#2d2e6a 19.5px,#2b2c67 22.5px,#363878 23.5px,#6367a9 24.5px,#7579b7 25.5px,#7579b7 33.5px,#575b9d 34.5px,#2f306f 35.5px,#2b2c67 36.5px,#2b2c67 38.5px,#313271 39.5px,#5a5da0 40.5px,#7175b4 41.5px,#7175b4 49.5px,#5c5fa2 50.5px,#323373 51.5px,#2b2c67 52.5px,#2e2f6d 55.5px,#4e5194 56.5px,#686cad 57.5px,#686cad 65.5px,#5c5fa2 66.5px,#363777 67.5px,#2b2c67 68.5px,#2d2e6a 71.5px,#6367a9 73.5px,#6468aa 81.5px,#5d61a3 82.5px,#3a3b7c 83.5px,#2b2c67 84.5px,#2b2c67 86.5px,#2c2d68 87.5px,#414486 88.5px,#6569ab 89.5px,#686cad 97.5px,#6468aa 98.5px,#404284 99.5px,#2c2c68 100.5px,#2c2c67 103.5px,#3b3d7e 104.5px,#5e62a4 105.5px,#6468aa 106.5px,#6468aa 113.5px,#6367a9 114.5px,#2d2d69 116.5px,#2b2c67 117.5px,#2b2c67 119.5px,#303170 120.5px,#45488a 121.5px,#4b4e91 122.5px,#4b4e91 127.5px,#4a4d90 128.5px,#2d2e6a 130.5px,#2a2a64 131.5px,#2b2b65 139.0px)"></div><div style="height:2px;background:linear-gradient(90deg,#2a2a64 0.0px,#292962 6.5px,#2e2f6c 7.5px,#484b8e 8.5px,#56599c 9.5px,#55599b 17.5px,#2d2e6a 19.5px,#2b2c67 22.5px,#363878 23.5px,#6367a9 24.5px,#7579b7 25.5px,#7579b7 33.5px,#575b9d 34.5px,#2f306f 35.5px,#2b2c67 36.5px,#2b2c67 38.5px,#313271 39.5px,#5a5da0 40.5px,#7175b4 41.5px,#7175b4 49.5px,#5c5fa2 50.5px,#323373 51.5px,#2b2c67 52.5px,#2e2f6d 55.5px,#4e5194 56.5px,#686cad 57.5px,#686cad 65.5px,#5c5fa2 66.5px,#363777 67.5px,#2b2c67 68.5px,#2d2e6a 71.5px,#6367a9 73.5px,#6468aa 81.5px,#5d61a3 82.5px,#3a3b7c 83.5px,#2b2c67 84.5px,#2b2c67 86.5px,#2c2d68 87.5px,#414486 88.5px,#6569ab 89.5px,#686cad 97.5px,#6468aa 98.5px,#404284 99.5px,#2c2c68 100.5px,#2c2c67 103.5px,#3b3d7e 104.5px,#5e62a4 105.5px,#6468aa 106.5px,#6468aa 113.5px,#6367a9 114.5px,#2d2d69 116.5px,#2b2c67 117.5px,#2b2c67 119.5px,#303170 120.5px,#45488a 121.5px,#4b4e91 122.5px,#4b4e91 127.5px,#4a4d90 128.5px,#2d2e6a 130.5px,#2a2a64 131.5px,#2b2b65 139.0px)"></div><div style="height:2px;background:linear-gradient(90deg,#2a2a64 0.0px,#292962 6.5px,#2e2f6c 7.5px,#484b8e 8.5px,#56599c 9.5px,#55599b 17.5px,#2d2e6a 19.5px,#2b2c67 22.5px,#363878 23.5px,#6367a9 24.5px,#7579b7 25.5px,#7579b7 33.5px,#575b9d 34.5px,#2f306f 35.5px,#2b2c67 36.5px,#2b2c67 38.5px,#313271 39.5px,#5a5da0 40.5px,#7175b4 41.5px,#7175b4 49.5px,#5c5fa2 50.5px,#323373 51.5px,#2b2c67 52.5px,#2e2f6d 55.5px,#4e5194 56.5px,#686cad 57.5px,#686cad 65.5px,#5c5fa2 66.5px,#363777 67.5px,#2b2c67 68.5px,#2d2e6a 71.5px,#6367a9 73.5px,#6468aa 81.5px,#5d61a3 82.5px,#3a3b7c 83.5px,#2b2c67 84.5px,#2b2c67 86.5px,#2c2d68 87.5px,#414486 88.5px,#6468aa 89.5px,#686cad 97.5px,#6468aa 98.5px,#404284 99.5px,#2c2c68 100.5px,#2c2c67 103.5px,#3b3d7e 104.5px,#5e62a4 105.5px,#6468aa 106.5px,#6468aa 113.5px,#6367a9 114.5px,#2d2d69 116.5px,#2b2c67 117.5px,#2b2c67 119.5px,#303170 120.5px,#45488a 121.5px,#4b4e91 122.5px,#4b4e91 127.5px,#4a4d90 128.5px,#2d2e6a 130.5px,#2a2a64 131.5px,#2b2b65 139.0px)"></div><div style="height:2px;background:linear-gradient(90deg,#2a2a64 0.0px,#292962 6.5px,#2e2f6c 7.5px,#484b8e 8.5px,#56599c 9.5px,#55599b 17.5px,#2d2e6a 19.5px,#2b2c67 22.5px,#363878 23.5px,#6367a9 24.5px,#7579b7 25.5px,#7579b7 33.5px,#575b9d 34.5px,#2f306f 35.5px,#2b2c67 36.5px,#2b2c67 38.5px,#313271 39.5px,#5a5da0 40.5px,#7175b4 41.5px,#7175b4 49.5px,#5c5fa2 50.5px,#323373 51.5px,#2b2c67 52.5px,#2e2f6d 55.5px,#4e5194 56.5px,#686cad 57.5px,#686cad 65.5px,#5c5fa2 66.5px,#363777 67.5px,#2b2c67 68.5px,#2d2e6a 71.5px,#6367a9 73.5px,#6468aa 81.5px,#5d61a3 82.5px,#3a3b7c 83.5px,#2b2c67 84.5px,#2b2c67 86.5px,#2c2d68 87.5px,#414385 88.5px,#6468aa 89.5px,#686cad 97.5px,#6468aa 98.5px,#404284 99.5px,#2c2c68 100.5px,#2c2c67 103.5px,#3b3d7e 104.5px,#5e62a4 105.5px,#6468aa 106.5px,#6468aa 113.5px,#6367a9 114.5px,#2d2d69 116.5px,#2b2c67 117.5px,#2b2c67 119.5px,#303170 120.5px,#45488a 121.5px,#4b4e91 122.5px,#4b4e91 127.5px,#4a4d90 128.5px,#2d2e6a 130.5px,#2a2a64 131.5px,#2b2b65 139.0px)"></div><div style="height:2px;background:linear-gradient(90deg,#2a2a64 0.0px,#292962 6.5px,#2e2f6c 7.5px,#484b8e 8.5px,#56599c 9.5px,#55599b 17.5px,#2d2e6a 19.5px,#2b2c67 22.5px,#363878 23.5px,#6367a9 24.5px,#7579b7 25.5px,#7579b7 33.5px,#575b9d 34.5px,#2f306f 35.5px,#2b2c67 36.5px,#2b2c67 38.5px,#313271 39.5px,#5a5da0 40.5px,#7175b4 41.5px,#7175b4 49.5px,#5c5fa2 50.5px,#323373 51.5px,#2b2c67 52.5px,#2e2f6d 55.5px,#4e5194 56.5px,#686cad 57.5px,#686cad 65.5px,#5c5fa2 66.5px,#363777 67.5px,#2b2c67 68.5px,#2d2e6a 71.5px,#6367a9 73.5px,#6468aa 81.5px,#5d61a3 82.5px,#3a3b7c 83.5px,#2b2c67 84.5px,#2b2c67 86.5px,#2c2d68 87.5px,#404385 88.5px,#6367a9 89.5px,#686cad 97.5px,#6468aa 98.5px,#404284 99.5px,#2c2c68 100.5px,#2c2c67 103.5px,#3b3d7e 104.5px,#5e62a4 105.5px,#6468aa 106.5px,#6468aa 113.5px,#6367a9 114.5px,#2d2d69 116.5px,#2b2c67 117.5px,#2b2c67 119.5px,#303170 120.5px,#45488a 121.5px,#4b4e91 122.5px,#4b4e91 127.5px,#4a4d90 128.5px,#2d2e6a 130.5px,#2a2a64 131.5px,#2b2b65 139.0px)"></div></div></div>
<svg width="685" height="599" viewBox="0 0 685 599">
<line x1="51.0" y1="203.5" x2="264.0" y2="203.5" stroke="#ababab" stroke-width="1" stroke-dasharray="2.6,1.5"/>
<line x1="51.0" y1="181.5" x2="264.0" y2="181.5" stroke="#cacaca" stroke-width="1" stroke-dasharray="2.4,1.7"/>
<line x1="51.0" y1="158.5" x2="264.0" y2="158.5" stroke="#ababab" stroke-width="1" stroke-dasharray="2.6,1.5"/>
<line x1="51.0" y1="135.5" x2="264.0" y2="135.5" stroke="#cacaca" stroke-width="1" stroke-dasharray="2.4,1.7"/>
<line x1="51.0" y1="113.5" x2="264.0" y2="113.5" stroke="#ababab" stroke-width="1" stroke-dasharray="2.6,1.5"/>
<line x1="51.0" y1="90.5" x2="264.0" y2="90.5" stroke="#cacaca" stroke-width="1" stroke-dasharray="2.4,1.7"/>
<line x1="51.0" y1="67.5" x2="264.0" y2="67.5" stroke="#ababab" stroke-width="1" stroke-dasharray="2.6,1.5"/>
<line x1="51.0" y1="44.5" x2="264.0" y2="44.5" stroke="#cacaca" stroke-width="1" stroke-dasharray="2.4,1.7"/>
<line x1="51.0" y1="22.5" x2="264.0" y2="22.5" stroke="#ababab" stroke-width="1" stroke-dasharray="2.6,1.5"/>
<path d="M50.0,207.7 L50.0,11.5 L264.0,11.5 L264.0,260" fill="none" stroke="#959595" stroke-width="1"/>
<line x1="50.0" y1="207.7" x2="264.0" y2="207.7" stroke="#555" stroke-width="1"/>
<line x1="46.0" y1="203.8" x2="50.0" y2="203.8" stroke="#959595" stroke-width="1"/>
<text x="41.8" y="206.60000000000002" font-size="9.3" text-anchor="end" fill="#313131" >8</text>
<line x1="46.0" y1="158.4" x2="50.0" y2="158.4" stroke="#959595" stroke-width="1"/>
<text x="41.8" y="161.22000000000003" font-size="9.3" text-anchor="end" fill="#313131" >10</text>
<line x1="46.0" y1="113.0" x2="50.0" y2="113.0" stroke="#959595" stroke-width="1"/>
<text x="41.8" y="115.84" font-size="9.3" text-anchor="end" fill="#313131" >12</text>
<line x1="46.0" y1="67.7" x2="50.0" y2="67.7" stroke="#959595" stroke-width="1"/>
<text x="41.8" y="70.46" font-size="9.3" text-anchor="end" fill="#313131" >14</text>
<line x1="46.0" y1="22.3" x2="50.0" y2="22.3" stroke="#959595" stroke-width="1"/>
<text x="41.8" y="25.080000000000002" font-size="9.3" text-anchor="end" fill="#313131" >16</text>
<line x1="54.3" y1="207.7" x2="54.3" y2="212.7" stroke="#555" stroke-width="1"/>
<line x1="105.2" y1="207.7" x2="105.2" y2="212.7" stroke="#555" stroke-width="1"/>
<line x1="156.1" y1="207.7" x2="156.1" y2="212.7" stroke="#555" stroke-width="1"/>
<line x1="207.1" y1="207.7" x2="207.1" y2="212.7" stroke="#555" stroke-width="1"/>
<line x1="258.0" y1="207.7" x2="258.0" y2="212.7" stroke="#555" stroke-width="1"/>
<line x1="50.0" y1="207.7" x2="50.0" y2="260" stroke="#959595" stroke-width="1"/>
<line x1="50.0" y1="260" x2="264.0" y2="260" stroke="#555" stroke-width="1"/>
<line x1="46.0" y1="257.3" x2="50.0" y2="257.3" stroke="#959595" stroke-width="1"/>
<text x="41.8" y="260.1" font-size="9.3" text-anchor="end" fill="#313131" >0</text>
<line x1="46.0" y1="235.2" x2="50.0" y2="235.2" stroke="#959595" stroke-width="1"/>
<text x="41.8" y="237.95000000000002" font-size="9.3" text-anchor="end" fill="#313131" >100</text>
<line x1="46.0" y1="213.0" x2="50.0" y2="213.0" stroke="#959595" stroke-width="1"/>
<text x="41.8" y="215.8" font-size="9.3" text-anchor="end" fill="#313131" >200</text>
<line x1="54.3" y1="260" x2="54.3" y2="263" stroke="#555" stroke-width="1"/>
<text x="54.3" y="276.7" font-size="9.3" text-anchor="middle" fill="#313131" >8</text>
<line x1="105.2" y1="260" x2="105.2" y2="263" stroke="#555" stroke-width="1"/>
<text x="105.22" y="276.7" font-size="9.3" text-anchor="middle" fill="#313131" >10</text>
<line x1="156.1" y1="260" x2="156.1" y2="263" stroke="#555" stroke-width="1"/>
<text x="156.14" y="276.7" font-size="9.3" text-anchor="middle" fill="#313131" >12</text>
<line x1="207.1" y1="260" x2="207.1" y2="263" stroke="#555" stroke-width="1"/>
<text x="207.06" y="276.7" font-size="9.3" text-anchor="middle" fill="#313131" >14</text>
<line x1="258.0" y1="260" x2="258.0" y2="263" stroke="#555" stroke-width="1"/>
<text x="257.98" y="276.7" font-size="9.3" text-anchor="middle" fill="#313131" >16</text>
<text x="156.9" y="292.7" font-size="10.6" text-anchor="middle" fill="#313131" textLength="70" lengthAdjust="spacingAndGlyphs">Filling fraction</text>
<path d="M50.0,203.8 C51.7,203.8 58.0,204.7 60.1,203.8 C62.2,202.9 60.6,200.9 62.9,198.3 C65.2,195.7 71.2,191.2 73.9,188.2 C76.7,185.2 77.7,181.9 79.4,180.4 C81.1,178.9 82.5,180.5 84.0,179.3 C85.5,178.2 86.8,175.4 88.6,173.5 C90.4,171.6 92.5,170.3 95.0,168.0 C97.5,165.7 100.8,161.3 103.3,159.7 C105.8,158.1 108.0,159.9 109.7,158.4 C111.4,156.9 111.1,153.2 113.4,150.5 C115.7,147.8 121.1,144.8 123.5,142.2 C125.9,139.6 126.3,136.3 128.0,134.9 C129.7,133.5 131.9,135.2 133.6,134.0 C135.3,132.8 136.2,129.7 138.2,127.5 C140.2,125.3 143.1,123.5 145.5,121.1 C147.9,118.7 150.6,114.8 152.8,113.2 C155.0,111.6 156.2,113.4 158.8,111.5 C161.4,109.6 165.2,105.5 168.4,102.0 C171.6,98.5 175.4,92.5 178.0,90.4 C180.6,88.3 182.2,90.9 183.8,89.5 C185.4,88.1 185.7,84.2 187.6,81.8 C189.5,79.4 192.9,77.3 195.3,75.1 C197.7,72.9 200.1,69.6 202.0,68.4 C203.9,67.2 205.0,69.1 206.8,68.0 C208.6,66.9 209.4,65.5 212.6,61.6 C215.8,57.7 222.8,47.3 226.0,44.4 C229.2,41.5 229.9,45.8 231.8,44.0 C233.7,42.2 234.6,37.3 237.5,33.8 C240.4,30.3 244.8,25.3 249.0,23.2 C253.2,21.1 260.0,21.5 262.5,21.3 C265.0,21.1 263.8,21.8 264.0,21.9" fill="none" stroke="#e8252b" stroke-width="1.0" stroke-linejoin="round" stroke-linecap="round"/>
<path d="M50.0,203.8 C52.0,203.8 59.1,204.3 61.9,203.8 C64.7,203.3 64.2,202.8 66.5,201.0 C68.8,199.2 72.6,196.1 75.7,192.7 C78.8,189.3 81.8,184.8 84.9,180.8 C88.0,176.8 91.2,172.3 94.1,168.9 C97.0,165.5 100.2,161.8 102.3,160.2 C104.4,158.6 105.4,159.2 106.9,159.1 C108.4,159.0 110.0,160.4 111.5,159.7 C113.0,159.0 113.5,157.5 116.1,155.1 C118.7,152.7 123.7,148.4 127.1,145.0 C130.5,141.6 133.2,137.8 136.3,134.9 C139.4,132.0 142.6,129.8 145.5,127.5 C148.4,125.2 152.0,122.2 153.8,121.1 C155.6,120.0 155.5,121.2 156.5,120.8 C157.5,120.3 158.0,121.4 160.0,118.4 C162.0,115.4 165.4,107.6 168.4,102.9 C171.4,98.2 174.8,94.4 178.0,90.4 C181.2,86.4 184.1,82.7 187.6,78.9 C191.1,75.1 196.5,69.2 199.2,67.4 C201.9,65.7 202.6,68.6 204.0,68.4 C205.4,68.2 206.4,67.9 207.8,66.4 C209.2,65.0 209.9,63.1 212.6,59.7 C215.3,56.4 220.3,51.2 224.1,46.3 C227.9,41.3 231.8,33.8 235.6,30.0 C239.4,26.2 244.5,25.1 247.1,23.8 C249.7,22.5 248.9,22.6 251.0,22.3 C253.1,22.0 257.9,22.7 259.6,21.9 C261.4,21.1 260.8,19.2 261.5,17.5 C262.2,15.8 263.6,12.7 264.0,11.7" fill="none" stroke="#1e1e1e" stroke-width="1.0" stroke-linejoin="round" stroke-linecap="round"/>
<path d="M50.1,253.2 C50.3,253.9 49.6,256.5 51.1,257.3 C52.6,258.1 57.2,259.2 59.3,258.0 C61.3,256.8 61.7,252.2 63.4,250.2 C65.1,248.2 67.8,247.1 69.5,246.1 C71.2,245.1 72.4,244.6 73.6,244.0 C74.8,243.4 75.6,241.9 76.6,242.6 C77.6,243.3 78.7,246.0 79.7,248.1 C80.7,250.2 81.8,255.6 82.8,255.3 C83.8,255.0 84.6,247.8 85.8,246.1 C87.0,244.4 88.2,245.4 89.9,245.1 C91.6,244.8 94.4,244.7 96.1,244.0 C97.8,243.3 99.1,240.3 100.1,241.0 C101.1,241.7 101.2,246.1 102.2,248.1 C103.2,250.1 104.9,253.2 106.3,253.2 C107.7,253.2 107.0,249.0 110.4,248.1 C113.8,247.2 123.5,247.3 126.7,247.7 C129.9,248.0 129.0,248.8 129.8,250.2 C130.7,251.6 131.0,256.3 131.8,256.3 C132.7,256.3 133.5,251.2 134.9,250.2 C136.3,249.2 137.5,250.0 140.0,250.2 C142.5,250.4 147.5,250.2 150.0,251.4 C152.5,252.7 153.3,256.7 155.0,257.7 C156.7,258.7 158.3,258.4 160.0,257.2 C161.7,255.9 162.9,252.0 165.0,250.2 C167.1,248.4 170.5,246.6 172.6,246.4 C174.7,246.2 176.1,247.4 177.6,248.9 C179.1,250.4 180.1,254.8 181.3,255.2 C182.6,255.6 183.8,253.9 185.1,251.4 C186.3,248.9 187.6,242.5 188.8,240.2 C190.1,237.9 191.1,237.7 192.6,237.7 C194.1,237.7 195.9,237.7 197.6,240.2 C199.3,242.7 201.1,249.9 202.6,252.7 C204.1,255.5 204.9,257.8 206.4,257.2 C207.9,256.6 210.0,251.2 211.4,249.0 C212.8,246.8 213.7,245.0 215.1,243.9 C216.5,242.8 218.4,242.1 220.1,242.7 C221.8,243.3 223.4,245.6 225.1,247.7 C226.8,249.8 228.3,255.8 230.2,255.2 C232.1,254.6 234.5,246.5 236.4,243.9 C238.3,241.3 239.5,239.7 241.4,239.7 C243.3,239.7 245.8,241.3 247.7,243.9 C249.6,246.5 251.2,252.8 252.7,255.2 C254.2,257.6 254.8,257.7 256.5,258.2 C258.2,258.7 261.7,258.2 262.7,258.2" fill="none" stroke="#e8252b" stroke-width="1.0" stroke-linejoin="round" stroke-linecap="round"/>
<path d="M50.1,256.3 C51.6,256.5 57.1,257.5 59.3,257.3 C61.5,257.1 61.4,257.5 63.4,255.3 C65.4,253.1 69.1,246.9 71.5,244.0 C73.9,241.1 75.7,239.6 77.7,237.9 C79.8,236.2 81.4,234.8 83.8,233.8 C86.2,232.8 90.0,232.2 92.0,231.8 C94.0,231.4 95.0,230.0 96.0,231.4 C97.0,232.8 97.1,237.6 98.1,240.0 C99.1,242.4 100.8,244.2 102.2,246.1 C103.6,248.0 104.9,251.5 106.3,251.2 C107.7,250.8 108.7,247.8 110.4,244.0 C112.1,240.2 114.5,231.8 116.5,228.7 C118.5,225.6 120.5,225.7 122.6,225.2 C124.6,224.7 126.8,224.9 128.8,225.7 C130.9,226.4 133.0,228.8 134.9,229.7 C136.8,230.6 138.5,230.1 140.0,231.4 C141.5,232.7 142.1,235.6 143.8,237.7 C145.5,239.8 147.9,241.6 150.0,243.9 C152.1,246.2 154.4,250.8 156.3,251.4 C158.2,252.0 159.9,250.0 161.3,247.7 C162.8,245.4 163.6,239.9 165.0,237.7 C166.4,235.5 168.3,235.0 170.0,234.6 C171.7,234.2 172.5,234.6 175.0,235.1 C177.5,235.6 182.6,236.8 185.1,237.7 C187.6,238.5 188.0,238.8 190.1,240.2 C192.2,241.6 195.3,244.1 197.6,246.4 C199.9,248.7 202.2,252.9 203.9,253.9 C205.6,254.9 206.2,254.4 207.6,252.7 C209.0,251.0 210.9,245.8 212.6,243.9 C214.3,242.0 215.7,242.2 217.6,241.4 C219.5,240.6 221.8,238.9 223.9,238.9 C226.0,238.9 227.9,239.9 230.2,241.4 C232.5,242.9 235.2,245.5 237.7,247.7 C240.2,249.9 242.7,253.0 245.2,254.7 C247.7,256.4 250.4,257.3 252.7,257.7 C255.0,258.1 257.3,258.4 259.0,257.2 C260.7,255.9 262.1,251.4 262.7,250.2" fill="none" stroke="#1e1e1e" stroke-width="1.0" stroke-linejoin="round" stroke-linecap="round"/>
<text transform="translate(19.5,109.8) rotate(-90)" font-size="10.5" text-anchor="middle" fill="#313131" textLength="42.5" lengthAdjust="spacingAndGlyphs"><tspan font-style="italic">σ</tspan><tspan font-size="7.6" dy="2.6">xy</tspan><tspan dy="-2.6"> (e</tspan><tspan font-size="6.5" dy="-4">2</tspan><tspan dy="4">/</tspan><tspan font-style="italic">h</tspan>)</text>
<text transform="translate(12.9,233.8) rotate(-90)" font-size="10.3" text-anchor="middle" fill="#313131" textLength="31.7" lengthAdjust="spacingAndGlyphs"><tspan font-style="italic">R</tspan><tspan font-size="7.6" dy="2.6">xx</tspan><tspan dy="-2.6"> (Ω)</tspan></text>
<text x="3.6" y="11.2" font-size="15" text-anchor="start" fill="#111" font-weight="bold">a</text>
<text x="3.4" y="211.8" font-size="15" text-anchor="start" fill="#111" font-weight="bold">b</text>
<defs><clipPath id="hmclip"><rect x="325.7" y="92.8" width="139.1" height="135.7"/></clipPath><filter id="blur1" x="-20%" y="-20%" width="140%" height="140%"><feGaussianBlur stdDeviation="1.6"/></filter><filter id="blur2" x="-30%" y="-30%" width="160%" height="160%"><feGaussianBlur stdDeviation="2.5"/></filter><linearGradient id="cbar" x1="0" x2="1" y1="0" y2="0"><stop offset="0" stop-color="#24245e"/><stop offset="0.5" stop-color="#6a6eae"/><stop offset="1" stop-color="#eef0fa"/></linearGradient></defs>
<rect x="325.7" y="92.8" width="139.10000000000002" height="135.7" fill="none" stroke="#333" stroke-width="0.6"/>
<line x1="325.7" y1="160.3" x2="464.8" y2="160.3" stroke="#1a1a1a" stroke-width="1.2" stroke-dasharray="3,3"/>
<line x1="325.7" y1="220.8" x2="464.8" y2="220.8" stroke="#e8282c" stroke-width="1.2" stroke-dasharray="3,3"/>
<line x1="394.7" y1="92.8" x2="394.7" y2="228.5" stroke="#f0a21c" stroke-width="1.4" stroke-dasharray="3,2.5"/>
<path d="M399.5,117.2 A14.6,13.7 0 0 1 398.8,144.5" fill="none" stroke="#f0a21c" stroke-width="1.2"/>
<path d="M397,116.8 L402.2,113.8 L402,119.8 Z" fill="#f0a21c"/>
<text x="416.5" y="135.8" font-size="11" text-anchor="start" fill="#f0a21c" textLength="33.5" lengthAdjust="spacingAndGlyphs"><tspan font-family="Liberation Serif, serif" font-size="12.5">δ</tspan> (<tspan font-style="italic">D</tspan>/<tspan font-style="italic">B</tspan>)</text>
<path d="M443.7,219.6 C443.5,212 440,208 434.8,208 C430.5,208 428.2,211 427,215" fill="none" stroke="#e8282c" stroke-width="1.3"/>
<path d="M425.3,219.4 L423.6,212.8 L429.4,214.6 Z" fill="#e8282c"/>
<text x="427.4" y="205" font-size="12.5" fill="#e8282c" font-family="Liberation Serif, serif">δ <tspan font-style="italic">ν</tspan></text>
<line x1="320.7" y1="104.1" x2="325.7" y2="104.1" stroke="#555" stroke-width="0.9"/>
<text x="314.8" y="107.30000000000001" font-size="9.3" text-anchor="end" fill="#313131" >2</text>
<line x1="320.7" y1="132.2" x2="325.7" y2="132.2" stroke="#555" stroke-width="0.9"/>
<text x="314.8" y="135.4" font-size="9.3" text-anchor="end" fill="#313131" >1</text>
<line x1="320.7" y1="160.3" x2="325.7" y2="160.3" stroke="#555" stroke-width="0.9"/>
<text x="314.8" y="163.5" font-size="9.3" text-anchor="end" fill="#313131" >0</text>
<line x1="320.7" y1="188.4" x2="325.7" y2="188.4" stroke="#555" stroke-width="0.9"/>
<text x="314.8" y="191.6" font-size="9.3" text-anchor="end" fill="#313131" >−1</text>
<line x1="320.7" y1="216.5" x2="325.7" y2="216.5" stroke="#555" stroke-width="0.9"/>
<text x="314.8" y="219.7" font-size="9.3" text-anchor="end" fill="#313131" >−2</text>
<line x1="327.8" y1="228.5" x2="327.8" y2="232.5" stroke="#555" stroke-width="0.9"/>
<text x="328.8" y="244.7" font-size="9.3" text-anchor="middle" fill="#313131" >8</text>
<line x1="361.2" y1="228.5" x2="361.2" y2="232.5" stroke="#555" stroke-width="0.9"/>
<text x="361.8" y="244.7" font-size="9.3" text-anchor="middle" fill="#313131" >10</text>
<line x1="394.7" y1="228.5" x2="394.7" y2="232.5" stroke="#555" stroke-width="0.9"/>
<text x="394.9" y="244.7" font-size="9.3" text-anchor="middle" fill="#313131" >12</text>
<line x1="428.1" y1="228.5" x2="428.1" y2="232.5" stroke="#555" stroke-width="0.9"/>
<text x="428.4" y="244.7" font-size="9.3" text-anchor="middle" fill="#313131" >14</text>
<line x1="461.6" y1="228.5" x2="461.6" y2="232.5" stroke="#555" stroke-width="0.9"/>
<text x="461.2" y="244.7" font-size="9.3" text-anchor="middle" fill="#313131" >16</text>
<text x="394.7" y="261.1" font-size="10.6" text-anchor="middle" fill="#313131" textLength="70.3" lengthAdjust="spacingAndGlyphs">Filling fraction</text>
<text transform="translate(295.6,161.3) rotate(-90)" font-size="10.5" text-anchor="middle" fill="#313131" textLength="78" lengthAdjust="spacingAndGlyphs">(<tspan font-style="italic">D</tspan> − <tspan font-style="italic">D</tspan><tspan font-size="7.6" dy="2.6">0</tspan><tspan dy="-2.6">)/</tspan><tspan font-style="italic">B</tspan> (e<tspan font-size="7" dy="-4">2</tspan><tspan dy="4">/</tspan><tspan font-style="italic">h</tspan>)</text>
<text x="281.8" y="11.4" font-size="15" text-anchor="start" fill="#111" font-weight="bold">c</text>
<text x="305.8" y="40.9" font-size="11" text-anchor="start" fill="#313131" textLength="39.5" lengthAdjust="spacingAndGlyphs"><tspan font-style="italic">T</tspan> = 1.6 K</text>
<text x="305.8" y="53.7" font-size="11" text-anchor="start" fill="#313131" textLength="35" lengthAdjust="spacingAndGlyphs"><tspan font-style="italic">B</tspan> = 12 T</text>
<text x="414" y="56.5" font-size="10" text-anchor="start" fill="#313131" ><tspan font-style="italic">R</tspan><tspan font-size="7.6" dy="2.6">xx</tspan><tspan dy="-2.6"> (Ω)</tspan></text>
<text x="414.4" y="73.7" font-size="9.3" text-anchor="middle" fill="#313131" >−10</text>
<text x="445.4" y="73.7" font-size="9.3" text-anchor="middle" fill="#313131" >220</text>
<rect x="414" y="79" width="31.5" height="3.8" fill="url(#cbar)" stroke="#444" stroke-width="0.4"/>
<line x1="414.2" y1="76.5" x2="414.2" y2="83" stroke="#444" stroke-width="0.6"/><line x1="445.3" y1="76.5" x2="445.3" y2="83" stroke="#444" stroke-width="0.6"/>
<polyline points="325.7,228.5 325.7,260 98.2,347.7" fill="none" stroke="#222" stroke-width="1"/>
<polyline points="464.8,228.5 474.1,264 474.1,347.5" fill="none" stroke="#222" stroke-width="1"/>
<line x1="557.5" y1="58.5" x2="681.0" y2="58.5" stroke="#cfcfcf" stroke-width="1" stroke-dasharray="2.3,1.8"/>
<line x1="557.5" y1="109.5" x2="681.0" y2="109.5" stroke="#cfcfcf" stroke-width="1" stroke-dasharray="2.3,1.8"/>
<line x1="557.5" y1="160.5" x2="681.0" y2="160.5" stroke="#cfcfcf" stroke-width="1" stroke-dasharray="2.3,1.8"/>
<line x1="557.5" y1="212.5" x2="681.0" y2="212.5" stroke="#cfcfcf" stroke-width="1" stroke-dasharray="2.3,1.8"/>
<rect x="557.5" y="11.3" width="123.5" height="247.5" fill="none" stroke="#7a7a7a" stroke-width="1"/>
<line x1="619.4" y1="11.3" x2="619.4" y2="258.8" stroke="#7a7a7a" stroke-width="1"/>
<line x1="552.9" y1="32.9" x2="557.5" y2="32.9" stroke="#7a7a7a" stroke-width="1"/>
<line x1="614.8" y1="32.9" x2="619.4" y2="32.9" stroke="#7a7a7a" stroke-width="1"/>
<text x="544.6" y="36.00000000000001" font-size="9.3" text-anchor="end" fill="#313131" >4</text>
<line x1="549.5" y1="58.5" x2="557.5" y2="58.5" stroke="#7a7a7a" stroke-width="1"/>
<line x1="611.4" y1="58.5" x2="619.4" y2="58.5" stroke="#7a7a7a" stroke-width="1"/>
<text x="544.6" y="61.6" font-size="9.3" text-anchor="end" fill="#313131" >3</text>
<line x1="552.9" y1="84.1" x2="557.5" y2="84.1" stroke="#7a7a7a" stroke-width="1"/>
<line x1="614.8" y1="84.1" x2="619.4" y2="84.1" stroke="#7a7a7a" stroke-width="1"/>
<text x="544.6" y="87.2" font-size="9.3" text-anchor="end" fill="#313131" >2</text>
<line x1="549.5" y1="109.7" x2="557.5" y2="109.7" stroke="#7a7a7a" stroke-width="1"/>
<line x1="611.4" y1="109.7" x2="619.4" y2="109.7" stroke="#7a7a7a" stroke-width="1"/>
<text x="544.6" y="112.80000000000001" font-size="9.3" text-anchor="end" fill="#313131" >1</text>
<line x1="552.9" y1="135.3" x2="557.5" y2="135.3" stroke="#7a7a7a" stroke-width="1"/>
<line x1="614.8" y1="135.3" x2="619.4" y2="135.3" stroke="#7a7a7a" stroke-width="1"/>
<text x="544.6" y="138.4" font-size="9.3" text-anchor="end" fill="#313131" >0</text>
<line x1="549.5" y1="160.9" x2="557.5" y2="160.9" stroke="#7a7a7a" stroke-width="1"/>
<line x1="611.4" y1="160.9" x2="619.4" y2="160.9" stroke="#7a7a7a" stroke-width="1"/>
<text x="544.6" y="164.0" font-size="9.3" text-anchor="end" fill="#313131" >−1</text>
<line x1="552.9" y1="186.5" x2="557.5" y2="186.5" stroke="#7a7a7a" stroke-width="1"/>
<line x1="614.8" y1="186.5" x2="619.4" y2="186.5" stroke="#7a7a7a" stroke-width="1"/>
<text x="544.6" y="189.6" font-size="9.3" text-anchor="end" fill="#313131" >−2</text>
<line x1="549.5" y1="212.1" x2="557.5" y2="212.1" stroke="#7a7a7a" stroke-width="1"/>
<line x1="611.4" y1="212.1" x2="619.4" y2="212.1" stroke="#7a7a7a" stroke-width="1"/>
<text x="544.6" y="215.20000000000002" font-size="9.3" text-anchor="end" fill="#313131" >−3</text>
<line x1="552.9" y1="237.7" x2="557.5" y2="237.7" stroke="#7a7a7a" stroke-width="1"/>
<line x1="614.8" y1="237.7" x2="619.4" y2="237.7" stroke="#7a7a7a" stroke-width="1"/>
<text x="544.6" y="240.8" font-size="9.3" text-anchor="end" fill="#313131" >−4</text>
<line x1="560.1" y1="258.8" x2="560.1" y2="262.8" stroke="#7a7a7a" stroke-width="1"/>
<line x1="613.7" y1="258.8" x2="613.7" y2="262.8" stroke="#7a7a7a" stroke-width="1"/>
<line x1="648.3" y1="258.8" x2="648.3" y2="262.8" stroke="#7a7a7a" stroke-width="1"/>
<line x1="678.8" y1="258.8" x2="678.8" y2="262.8" stroke="#7a7a7a" stroke-width="1"/>
<text x="560.1" y="276.8" font-size="9.3" text-anchor="middle" fill="#313131" >0</text>
<text x="613.2" y="276.8" font-size="9.3" text-anchor="middle" fill="#313131" >200</text>
<text x="648.6" y="276.8" font-size="9.3" text-anchor="middle" fill="#313131" >12</text>
<text x="678.9" y="276.8" font-size="9.3" text-anchor="middle" fill="#313131" >16</text>
<text x="588.2" y="292.7" font-size="10.3" text-anchor="middle" fill="#313131" textLength="30.5" lengthAdjust="spacingAndGlyphs"><tspan font-style="italic">R</tspan><tspan font-size="7.6" dy="2.6">xx</tspan><tspan dy="-2.6"> (Ω)</tspan></text>
<text x="649.8" y="292.7" font-size="10.3" text-anchor="middle" fill="#313131" textLength="44" lengthAdjust="spacingAndGlyphs">σ<tspan font-size="7.6" dy="2.6">xy</tspan><tspan dy="-2.6"> (e</tspan><tspan font-size="7" dy="-4">2</tspan><tspan dy="4">/</tspan><tspan font-style="italic">h</tspan>)</text>
<text transform="translate(523.3,131.3) rotate(-90)" font-size="10.3" text-anchor="middle" fill="#313131" textLength="92" lengthAdjust="spacingAndGlyphs">(<tspan font-style="italic">D</tspan> − <tspan font-style="italic">D</tspan><tspan font-size="7.6" dy="2.6">0</tspan><tspan dy="-2.6">)/</tspan><tspan font-style="italic">B</tspan> (<tspan font-style="italic">e</tspan><tspan font-size="7" dy="-4">2</tspan><tspan dy="4">/2 </tspan><tspan font-style="italic">h</tspan>)</text>
<text x="507.1" y="11.1" font-size="15" text-anchor="start" fill="#111" font-weight="bold">d</text>
<path d="M559.3,12.0 C559.3,15.0 558.8,25.8 559.3,30.0 C559.8,34.2 560.5,35.7 562.3,37.4 C564.0,39.1 566.5,39.1 569.8,40.4 C573.0,41.6 578.1,42.9 581.8,44.9 C585.5,46.9 589.5,50.0 592.2,52.4 C594.9,54.8 598.0,57.5 598.2,59.3 C598.5,61.0 596.9,61.6 593.7,62.9 C590.5,64.2 582.8,65.8 578.8,67.3 C574.8,68.8 571.8,70.0 569.8,71.8 C567.8,73.5 567.4,75.8 566.8,77.8 C566.2,79.8 566.0,81.8 566.2,83.8 C566.5,85.8 566.2,87.8 568.3,89.8 C570.4,91.8 575.3,94.0 578.8,95.8 C582.3,97.5 587.0,98.3 589.2,100.3 C591.4,102.3 591.5,106.1 592.2,107.8 C593.0,109.5 594.0,109.7 593.7,110.7 C593.5,111.7 593.2,112.7 590.7,113.7 C588.2,114.7 582.3,115.5 578.8,116.7 C575.3,118.0 571.5,119.7 569.8,121.2 C568.0,122.7 568.5,124.2 568.3,125.7 C568.1,127.2 568.7,128.5 568.6,130.0 C568.5,131.5 567.8,133.0 567.8,134.7 C567.8,136.4 568.4,138.3 568.4,140.0 C568.4,141.7 567.5,143.7 567.7,145.0 C567.9,146.3 567.4,147.0 569.8,148.0 C572.1,149.0 578.6,150.3 581.8,151.0 C585.0,151.7 587.3,152.0 589.2,152.4 C591.1,152.8 593.1,152.8 593.1,153.3 C593.1,153.8 589.6,154.3 589.2,155.4 C588.8,156.5 589.7,158.2 590.7,159.9 C591.7,161.7 594.2,164.2 595.2,165.9 C596.2,167.6 597.0,168.6 596.7,169.8 C596.5,171.1 596.7,172.3 593.7,173.4 C590.7,174.5 583.3,175.4 578.8,176.4 C574.3,177.4 569.5,177.9 566.8,179.4 C564.0,180.9 563.0,183.2 562.3,185.4 C561.5,187.7 561.8,190.9 562.3,192.9 C562.8,194.9 563.0,195.8 565.3,197.3 C567.5,198.8 573.4,200.3 575.8,201.8 C578.1,203.3 578.9,204.3 579.4,206.3 C579.9,208.3 578.9,211.6 578.8,213.8 C578.7,216.1 579.3,218.1 578.8,219.8 C578.3,221.6 577.8,223.1 575.8,224.3 C573.8,225.6 569.3,225.8 566.8,227.3 C564.3,228.8 561.9,230.6 560.8,233.3 C559.6,236.0 560.1,239.5 559.9,243.7 C559.6,247.9 559.4,256.0 559.3,258.5" fill="none" stroke="#f4a235" stroke-width="1.1" stroke-linejoin="round" stroke-linecap="round"/>
<line x1="648.4" y1="11.3" x2="648.4" y2="258.8" stroke="#555" stroke-width="0.9"/>
<path d="M648.4,11.5 C648.4,15.9 648.0,32.6 648.4,38.0 C648.8,43.4 649.9,41.7 650.5,44.0 C651.1,46.3 651.8,49.3 652.0,52.0 C652.2,54.7 652.3,58.0 652.0,60.0 C651.7,62.0 650.8,62.7 650.2,64.0 C649.6,65.3 648.7,65.3 648.4,68.0 C648.1,70.7 648.1,77.2 648.4,80.0 C648.7,82.8 649.7,82.3 650.0,85.0 C650.3,87.7 650.3,93.5 650.0,96.0 C649.7,98.5 648.7,97.7 648.4,100.0 C648.1,102.3 648.6,107.0 648.4,110.0 C648.2,113.0 647.4,114.7 647.2,118.0 C647.0,121.3 647.0,126.0 647.0,130.0 C647.0,134.0 647.3,138.7 647.5,142.0 C647.7,145.3 648.2,146.7 648.4,150.0 C648.5,153.3 648.2,159.0 648.4,162.0 C648.6,165.0 649.5,165.8 649.5,168.0 C649.5,170.2 648.6,169.7 648.4,175.0 C648.2,180.3 648.1,194.8 648.4,200.0 C648.7,205.2 649.8,203.7 650.0,206.0 C650.2,208.3 649.8,212.0 649.5,214.0 C649.2,216.0 648.6,210.6 648.4,218.0 C648.2,225.4 648.4,251.8 648.4,258.5" fill="none" stroke="#f4a235" stroke-width="1.0" stroke-linejoin="round" stroke-linecap="round"/>
<line x1="599.3" y1="112" x2="599.3" y2="157.5" stroke="#222" stroke-width="1"/>
<path d="M599.3,109.5 L597.3,114.5 L601.3,114.5 Z M599.3,160.2 L597.3,155.2 L601.3,155.2 Z" fill="#222"/>
<text x="600.8" y="131" font-size="10.5" text-anchor="start" fill="#313131" >e<tspan font-size="6.5" dy="-4">2</tspan></text>
<line x1="600.3" y1="133.2" x2="610.2" y2="133.2" stroke="#222" stroke-width="0.9"/>
<text x="602.5" y="143" font-size="10.5" text-anchor="start" fill="#313131" font-style="italic">h</text>
<rect x="98.3" y="347.6" width="375.8" height="213.19999999999993" fill="#e4e8f6"/>
<rect x="98.3" y="347.6" width="30.6" height="213.2" fill="#a9a1c8"/>
<rect x="150.8" y="347.6" width="14.4" height="213.2" fill="#a9a1c8"/>
<rect x="193.0" y="347.6" width="14.8" height="213.2" fill="#a9a1c8"/>
<rect x="235.6" y="347.6" width="14.3" height="213.2" fill="#a9a1c8"/>
<rect x="278.6" y="347.6" width="14.9" height="213.2" fill="#a9a1c8"/>
<rect x="321.5" y="347.6" width="14.7" height="213.2" fill="#a9a1c8"/>
<rect x="364.0" y="347.6" width="14.6" height="213.2" fill="#a9a1c8"/>
<rect x="406.8" y="347.6" width="14.2" height="213.2" fill="#a9a1c8"/>
<rect x="443.2" y="347.6" width="30.9" height="213.2" fill="#a9a1c8"/>
<rect x="147.2" y="447.5" width="21.2" height="14.5" fill="#fff"/>
<rect x="189.4" y="418.6" width="21.6" height="14.4" fill="#fff"/>
<rect x="189.4" y="476.5" width="21.6" height="14.5" fill="#fff"/>
<rect x="232.0" y="388.5" width="21.1" height="14.6" fill="#fff"/>
<rect x="232.0" y="447.5" width="21.1" height="14.5" fill="#fff"/>
<rect x="232.0" y="505.9" width="21.1" height="14.3" fill="#fff"/>
<rect x="275.0" y="359.3" width="21.7" height="13.6" fill="#fff"/>
<rect x="275.0" y="418.6" width="21.7" height="14.4" fill="#fff"/>
<rect x="275.0" y="476.5" width="21.7" height="14.5" fill="#fff"/>
<rect x="275.0" y="535.3" width="21.7" height="14.4" fill="#fff"/>
<rect x="317.9" y="388.5" width="21.5" height="14.6" fill="#fff"/>
<rect x="317.9" y="447.5" width="21.5" height="14.5" fill="#fff"/>
<rect x="317.9" y="505.9" width="21.5" height="14.3" fill="#fff"/>
<rect x="360.4" y="418.6" width="21.4" height="14.4" fill="#fff"/>
<rect x="360.4" y="476.5" width="21.4" height="14.5" fill="#fff"/>
<rect x="403.2" y="447.5" width="21.0" height="14.5" fill="#fff"/>
<line x1="113.6" y1="347.6" x2="113.6" y2="560.8" stroke="#6a6a7a" stroke-width="0.8" stroke-dasharray="3.5,3"/>
<line x1="158.2" y1="347.6" x2="158.2" y2="560.8" stroke="#6a6a7a" stroke-width="0.8" stroke-dasharray="3.5,3"/>
<line x1="200.4" y1="347.6" x2="200.4" y2="560.8" stroke="#6a6a7a" stroke-width="0.8" stroke-dasharray="3.5,3"/>
<line x1="242.7" y1="347.6" x2="242.7" y2="560.8" stroke="#6a6a7a" stroke-width="0.8" stroke-dasharray="3.5,3"/>
<line x1="286.0" y1="347.6" x2="286.0" y2="560.8" stroke="#6a6a7a" stroke-width="0.8" stroke-dasharray="3.5,3"/>
<line x1="328.8" y1="347.6" x2="328.8" y2="560.8" stroke="#6a6a7a" stroke-width="0.8" stroke-dasharray="3.5,3"/>
<line x1="371.3" y1="347.6" x2="371.3" y2="560.8" stroke="#6a6a7a" stroke-width="0.8" stroke-dasharray="3.5,3"/>
<line x1="413.8" y1="347.6" x2="413.8" y2="560.8" stroke="#6a6a7a" stroke-width="0.8" stroke-dasharray="3.5,3"/>
<line x1="457.2" y1="347.6" x2="457.2" y2="560.8" stroke="#6a6a7a" stroke-width="0.8" stroke-dasharray="3.5,3"/>
<rect x="98.3" y="347.6" width="375.8" height="213.2" fill="none" stroke="#7f7f88" stroke-width="1"/>
<line x1="113.6" y1="560.8" x2="113.6" y2="564.3" stroke="#7f7f88" stroke-width="1"/>
<text x="113.7" y="581.2" font-size="10.8" text-anchor="middle" fill="#313131" >8</text>
<line x1="158.2" y1="560.8" x2="158.2" y2="564.3" stroke="#7f7f88" stroke-width="1"/>
<text x="156.7" y="581.2" font-size="10.8" text-anchor="middle" fill="#313131" >9</text>
<line x1="200.4" y1="560.8" x2="200.4" y2="564.3" stroke="#7f7f88" stroke-width="1"/>
<text x="200.4" y="581.2" font-size="10.8" text-anchor="middle" fill="#313131" >10</text>
<line x1="242.7" y1="560.8" x2="242.7" y2="564.3" stroke="#7f7f88" stroke-width="1"/>
<text x="242.4" y="581.2" font-size="10.8" text-anchor="middle" fill="#313131" >11</text>
<line x1="286.0" y1="560.8" x2="286.0" y2="564.3" stroke="#7f7f88" stroke-width="1"/>
<text x="285.3" y="581.2" font-size="10.8" text-anchor="middle" fill="#313131" >12</text>
<line x1="328.8" y1="560.8" x2="328.8" y2="564.3" stroke="#7f7f88" stroke-width="1"/>
<text x="328.3" y="581.2" font-size="10.8" text-anchor="middle" fill="#313131" >13</text>
<line x1="371.3" y1="560.8" x2="371.3" y2="564.3" stroke="#7f7f88" stroke-width="1"/>
<text x="370.9" y="581.2" font-size="10.8" text-anchor="middle" fill="#313131" >14</text>
<line x1="413.8" y1="560.8" x2="413.8" y2="564.3" stroke="#7f7f88" stroke-width="1"/>
<text x="414.1" y="581.2" font-size="10.8" text-anchor="middle" fill="#313131" >15</text>
<line x1="457.2" y1="560.8" x2="457.2" y2="564.3" stroke="#7f7f88" stroke-width="1"/>
<text x="456.6" y="581.2" font-size="10.8" text-anchor="middle" fill="#313131" >16</text>
<text x="286" y="596.1" font-size="10.4" text-anchor="middle" fill="#313131" textLength="70.5" lengthAdjust="spacingAndGlyphs">Filling fraction</text>
<text x="113.89999999999999" y="461.3" font-size="10" text-anchor="middle" fill="#313131" textLength="24.2" lengthAdjust="spacingAndGlyphs">(2, 6)</text>
<text x="158.5" y="431.5" font-size="10" text-anchor="middle" fill="#313131" textLength="24.2" lengthAdjust="spacingAndGlyphs">(2, 7)</text>
<text x="158.5" y="480.7" font-size="10" text-anchor="middle" fill="#313131" textLength="24.2" lengthAdjust="spacingAndGlyphs">(3, 6)</text>
<text x="200.70000000000002" y="408.6" font-size="10" text-anchor="middle" fill="#313131" textLength="24.2" lengthAdjust="spacingAndGlyphs">(2, 8)</text>
<text x="200.70000000000002" y="457.8" font-size="10" text-anchor="middle" fill="#313131" textLength="24.2" lengthAdjust="spacingAndGlyphs">(3, 7)</text>
<text x="200.70000000000002" y="506.3" font-size="10" text-anchor="middle" fill="#313131" textLength="24.2" lengthAdjust="spacingAndGlyphs">(4, 6)</text>
<text x="243.0" y="379.5" font-size="10" text-anchor="middle" fill="#313131" textLength="24.2" lengthAdjust="spacingAndGlyphs">(2, 9)</text>
<text x="243.0" y="428.5" font-size="10" text-anchor="middle" fill="#313131" textLength="24.2" lengthAdjust="spacingAndGlyphs">(3, 8)</text>
<text x="243.0" y="486.3" font-size="10" text-anchor="middle" fill="#313131" textLength="24.2" lengthAdjust="spacingAndGlyphs">(4, 7)</text>
<text x="243.0" y="533.3" font-size="10" text-anchor="middle" fill="#313131" textLength="24.2" lengthAdjust="spacingAndGlyphs">(5, 6)</text>
<text x="286.3" y="400.7" font-size="10" text-anchor="middle" fill="#313131" textLength="24.2" lengthAdjust="spacingAndGlyphs">(3, 9)</text>
<text x="286.3" y="458.3" font-size="10" text-anchor="middle" fill="#313131" textLength="24.2" lengthAdjust="spacingAndGlyphs">(4, 8)</text>
<text x="286.3" y="516.9" font-size="10" text-anchor="middle" fill="#313131" textLength="24.2" lengthAdjust="spacingAndGlyphs">(5, 7)</text>
<text x="286.3" y="558.5" font-size="10" text-anchor="middle" fill="#313131" textLength="24.2" lengthAdjust="spacingAndGlyphs">(6, 6)</text>
<text x="331.2" y="380.1" font-size="10" text-anchor="middle" fill="#313131" textLength="31" lengthAdjust="spacingAndGlyphs">(3, 10)</text>
<text x="329.1" y="429.8" font-size="10" text-anchor="middle" fill="#313131" textLength="24.2" lengthAdjust="spacingAndGlyphs">(4, 9)</text>
<text x="329.1" y="486.1" font-size="10" text-anchor="middle" fill="#313131" textLength="24.2" lengthAdjust="spacingAndGlyphs">(5, 8)</text>
<text x="329.1" y="533.3" font-size="10" text-anchor="middle" fill="#313131" textLength="24.2" lengthAdjust="spacingAndGlyphs">(6, 7)</text>
<text x="373.7" y="411.1" font-size="10" text-anchor="middle" fill="#313131" textLength="31" lengthAdjust="spacingAndGlyphs">(4, 10)</text>
<text x="371.6" y="458.3" font-size="10" text-anchor="middle" fill="#313131" textLength="24.2" lengthAdjust="spacingAndGlyphs">(5, 9)</text>
<text x="371.6" y="507.1" font-size="10" text-anchor="middle" fill="#313131" textLength="24.2" lengthAdjust="spacingAndGlyphs">(6, 8)</text>
<text x="416.2" y="437.7" font-size="10" text-anchor="middle" fill="#313131" textLength="31" lengthAdjust="spacingAndGlyphs">(5, 10)</text>
<text x="414.1" y="478.3" font-size="10" text-anchor="middle" fill="#313131" textLength="24.2" lengthAdjust="spacingAndGlyphs">(6, 9)</text>
<text x="459.59999999999997" y="466.7" font-size="10" text-anchor="middle" fill="#313131" textLength="31" lengthAdjust="spacingAndGlyphs">(6, 10)</text>
<text x="226.4" y="356.8" font-size="10" text-anchor="start" fill="#313131" textLength="70.5" lengthAdjust="spacingAndGlyphs">(<tspan font-style="italic">ν</tspan><tspan font-size="7.6" dy="2.6">b</tspan><tspan dy="-2.6">, </tspan><tspan font-style="italic">ν</tspan><tspan font-size="7.6" dy="2.6">t</tspan><tspan dy="-2.6">) = (2, 10)</tspan></text>
<text x="400.9" y="340.4" font-size="10.5" text-anchor="start" fill="#e8303a" textLength="69" lengthAdjust="spacingAndGlyphs">[<tspan font-style="italic">N</tspan><tspan font-size="7.5" dy="2.5">b</tspan><tspan dy="-2.5">, </tspan><tspan font-style="italic">N</tspan><tspan font-size="7.5" dy="2.5">t</tspan><tspan dy="-2.5">] = [1, 2]</tspan></text>
<line x1="158.4" y1="454.6" x2="299" y2="356" stroke="#e46aae" stroke-width="1.1"/>
<path d="M303.5,352.8 L296.2,354.3 L299.4,359 Z" fill="#e46aae"/>
<line x1="158.4" y1="454.6" x2="303" y2="553.8" stroke="#1ba3dd" stroke-width="1.1"/>
<path d="M307.5,557 L300.3,555.5 L303.4,551 Z" fill="#1ba3dd"/>
<text transform="translate(223.5,400.2) rotate(-35)" font-size="11" text-anchor="middle" dy="3.8" fill="#e46aae">Top</text>
<text transform="translate(230.6,411.4) rotate(-35)" font-size="11" text-anchor="middle" dy="3.8" fill="#e46aae">Gate</text>
<text transform="translate(231.2,497) rotate(34.4)" font-size="11" text-anchor="middle" dy="3.8" fill="#1ba3dd">Bottom</text>
<text transform="translate(224.4,508) rotate(34.4)" font-size="11" text-anchor="middle" dy="3.8" fill="#1ba3dd">Gate</text>
<line x1="286.0" y1="365.8" x2="486" y2="365.8" stroke="#2a2a2a" stroke-width="1"/>
<line x1="328.8" y1="395.7" x2="486" y2="395.7" stroke="#2a2a2a" stroke-width="1"/>
<line x1="371.3" y1="425.6" x2="486" y2="425.6" stroke="#2a2a2a" stroke-width="1"/>
<line x1="407.6" y1="455.3" x2="486" y2="455.3" stroke="#2a2a2a" stroke-width="1"/>
<line x1="446.6" y1="368.8" x2="446.6" y2="392.7" stroke="#1a1a1a" stroke-width="1"/>
<path d="M446.6,366.3 L444.6,370.8 L448.6,370.8 Z M446.6,395.2 L444.6,390.7 L448.6,390.7 Z" fill="#1a1a1a"/>
<line x1="465.2" y1="398.7" x2="465.2" y2="422.6" stroke="#1a1a1a" stroke-width="1"/>
<path d="M465.2,396.2 L463.2,400.7 L467.2,400.7 Z M465.2,425.1 L463.2,420.6 L467.2,420.6 Z" fill="#1a1a1a"/>
<line x1="480.7" y1="428.6" x2="480.7" y2="452.3" stroke="#1a1a1a" stroke-width="1"/>
<path d="M480.7,426.1 L478.7,430.6 L482.7,430.6 Z M480.7,454.8 L478.7,450.3 L482.7,450.3 Z" fill="#1a1a1a"/>
<text x="451.5" y="386.1" font-size="11" text-anchor="start" fill="#313131" textLength="42" lengthAdjust="spacingAndGlyphs"><tspan font-family="Liberation Serif, serif" font-size="12.5">δ</tspan> (<tspan font-style="italic">D</tspan>/<tspan font-style="italic">B</tspan>) =</text>
<text x="499.8" y="379.9" font-size="10.5" text-anchor="middle" fill="#313131" >1</text>
<line x1="496.1" y1="382.1" x2="504.5" y2="382.1" stroke="#2a2a2a" stroke-width="0.9"/>
<text x="500.3" y="391.6" font-size="10.5" text-anchor="middle" fill="#313131" >2</text>
<text x="507.3" y="380.1" font-size="10.5" text-anchor="start" fill="#313131" >e<tspan font-size="6.5" dy="-4.2">2</tspan></text>
<line x1="507" y1="382.1" x2="515.9" y2="382.1" stroke="#2a2a2a" stroke-width="0.9"/>
<text x="507.8" y="391.6" font-size="10.5" text-anchor="start" fill="#313131" font-style="italic">h</text>
<text x="3.6" y="320.7" font-size="15" text-anchor="start" fill="#111" font-weight="bold">e</text>
<clipPath id="ic0"><circle cx="39.2" cy="362.9" r="38.0"/></clipPath>
<circle cx="39.2" cy="362.9" r="38.5" fill="#fff"/>
<g clip-path="url(#ic0)"><line x1="13.2" y1="336.4" x2="13.2" y2="402.9" stroke="#222" stroke-width="0.9"/><line x1="41.6" y1="322.9" x2="41.6" y2="402.9" stroke="#222" stroke-width="0.9"/><path d="M41.6,325.6 Q58.4,325.6 65.6,326.7 Q58.4,327.8 41.6,327.8" fill="#fff" stroke="#222" stroke-width="0.6"/><path d="M41.6,328.4 Q58.4,328.4 65.6,329.5 Q58.4,330.6 41.6,330.6" fill="#fff" stroke="#222" stroke-width="0.6"/><path d="M13.2,336.7 L25.9,337.1 L36.2,338.0 L25.9,338.9 L13.2,339.3 Z" fill="#1ba3dd" stroke="#222" stroke-width="0.5"/><path d="M13.2,345.4 L25.9,345.8 L36.2,346.7 L25.9,347.6 L13.2,348.0 Z" fill="#1ba3dd" stroke="#222" stroke-width="0.5"/><path d="M41.6,334.6 L54.8,335.0 L65.6,335.9 L54.8,336.8 L41.6,337.2 Z" fill="#e070b8" stroke="#222" stroke-width="0.5"/><path d="M41.6,351.7 L54.8,352.1 L65.6,353.0 L54.8,353.9 L41.6,354.3 Z" fill="#e070b8" stroke="#222" stroke-width="0.5"/><path d="M41.6,360.5 L54.8,360.9 L65.6,361.8 L54.8,362.7 L41.6,363.1 Z" fill="#e070b8" stroke="#222" stroke-width="0.5"/><path d="M41.6,369.3 L54.8,369.7 L65.6,370.6 L54.8,371.5 L41.6,371.9 Z" fill="#e070b8" stroke="#222" stroke-width="0.5"/><path d="M41.6,377.2 L54.8,377.6 L65.6,378.5 L54.8,379.4 L41.6,379.8 Z" fill="#e070b8" stroke="#222" stroke-width="0.5"/><path d="M41.6,389.7 L54.8,390.1 L65.6,391.0 L54.8,391.9 L41.6,392.3 Z" fill="#e070b8" stroke="#222" stroke-width="0.5"/><path d="M41.6,397.2 L54.8,397.6 L65.6,398.5 L54.8,399.4 L41.6,399.8 Z" fill="#e070b8" stroke="#222" stroke-width="0.5"/><line x1="0" y1="333.4" x2="80" y2="333.4" stroke="#222" stroke-width="0.9" stroke-dasharray="2.2,2"/></g>
<circle cx="39.2" cy="362.9" r="38.5" fill="none" stroke="#222" stroke-width="1"/>
<polyline points="77.7,362.9 86,362.9 138.2,438.6 165.3,438.6" fill="none" stroke="#2a2a2a" stroke-width="1"/>
<clipPath id="ic1"><circle cx="39.2" cy="452.9" r="38.0"/></clipPath>
<circle cx="39.2" cy="452.9" r="38.5" fill="#fff"/>
<g clip-path="url(#ic1)"><line x1="13.2" y1="422.59999999999997" x2="13.2" y2="492.9" stroke="#222" stroke-width="0.9"/><line x1="41.6" y1="412.9" x2="41.6" y2="492.9" stroke="#222" stroke-width="0.9"/><path d="M13.2,423.1 Q29.3,423.1 36.2,424.2 Q29.3,425.3 13.2,425.3" fill="#fff" stroke="#222" stroke-width="0.6"/><path d="M41.6,415.6 Q58.4,415.6 65.6,416.7 Q58.4,417.8 41.6,417.8" fill="#fff" stroke="#222" stroke-width="0.6"/><path d="M41.6,422.3 Q58.4,422.3 65.6,423.4 Q58.4,424.5 41.6,424.5" fill="#fff" stroke="#222" stroke-width="0.6"/><path d="M13.2,438.7 L25.9,439.1 L36.2,440.0 L25.9,440.9 L13.2,441.3 Z" fill="#1ba3dd" stroke="#222" stroke-width="0.5"/><path d="M13.2,447.6 L25.9,448.0 L36.2,448.9 L25.9,449.8 L13.2,450.2 Z" fill="#1ba3dd" stroke="#222" stroke-width="0.5"/><path d="M41.6,438.7 L54.8,439.1 L65.6,440.0 L54.8,440.9 L41.6,441.3 Z" fill="#e070b8" stroke="#222" stroke-width="0.5"/><path d="M41.6,447.6 L54.8,448.0 L65.6,448.9 L54.8,449.8 L41.6,450.2 Z" fill="#e070b8" stroke="#222" stroke-width="0.5"/><path d="M41.6,456.6 L54.8,457.0 L65.6,457.9 L54.8,458.8 L41.6,459.2 Z" fill="#e070b8" stroke="#222" stroke-width="0.5"/><path d="M41.6,464.3 L54.8,464.7 L65.6,465.6 L54.8,466.5 L41.6,466.9 Z" fill="#e070b8" stroke="#222" stroke-width="0.5"/><path d="M41.6,477.5 L54.8,477.9 L65.6,478.8 L54.8,479.7 L41.6,480.1 Z" fill="#e070b8" stroke="#222" stroke-width="0.5"/><path d="M41.6,485.5 L54.8,485.9 L65.6,486.8 L54.8,487.7 L41.6,488.1 Z" fill="#e070b8" stroke="#222" stroke-width="0.5"/><line x1="0" y1="434.7" x2="80" y2="434.7" stroke="#222" stroke-width="0.9" stroke-dasharray="2.2,2"/></g>
<circle cx="39.2" cy="452.9" r="38.5" fill="none" stroke="#222" stroke-width="1"/>
<polyline points="77.7,452.3 86,452.3 101.7,468.6 121.5,468.6" fill="none" stroke="#2a2a2a" stroke-width="1"/>
<clipPath id="ic2"><circle cx="39.2" cy="541.5" r="38.0"/></clipPath>
<circle cx="39.2" cy="541.5" r="38.5" fill="#fff"/>
<g clip-path="url(#ic2)"><line x1="13.2" y1="510.6" x2="13.2" y2="581.5" stroke="#222" stroke-width="0.9"/><line x1="41.6" y1="501.5" x2="41.6" y2="581.5" stroke="#222" stroke-width="0.9"/><path d="M13.2,511.1 Q29.3,511.1 36.2,512.2 Q29.3,513.3 13.2,513.3" fill="#fff" stroke="#222" stroke-width="0.6"/><path d="M13.2,520.1 Q29.3,520.1 36.2,521.2 Q29.3,522.3 13.2,522.3" fill="#fff" stroke="#222" stroke-width="0.6"/><path d="M41.6,503.9 Q58.4,503.9 65.6,505.0 Q58.4,506.1 41.6,506.1" fill="#fff" stroke="#222" stroke-width="0.6"/><path d="M41.6,511.1 Q58.4,511.1 65.6,512.2 Q58.4,513.3 41.6,513.3" fill="#fff" stroke="#222" stroke-width="0.6"/><path d="M13.2,527.9 L25.9,528.3 L36.2,529.2 L25.9,530.1 L13.2,530.5 Z" fill="#1ba3dd" stroke="#222" stroke-width="0.5"/><path d="M13.2,542.6 L25.9,543.0 L36.2,543.9 L25.9,544.8 L13.2,545.2 Z" fill="#1ba3dd" stroke="#222" stroke-width="0.5"/><path d="M13.2,551.3 L25.9,551.7 L36.2,552.6 L25.9,553.5 L13.2,553.9 Z" fill="#1ba3dd" stroke="#222" stroke-width="0.5"/><path d="M41.6,527.9 L54.8,528.3 L65.6,529.2 L54.8,530.1 L41.6,530.5 Z" fill="#e070b8" stroke="#222" stroke-width="0.5"/><path d="M41.6,537.6 L54.8,538.0 L65.6,538.9 L54.8,539.8 L41.6,540.2 Z" fill="#e070b8" stroke="#222" stroke-width="0.5"/><path d="M41.6,545.0 L54.8,545.4 L65.6,546.3 L54.8,547.2 L41.6,547.6 Z" fill="#e070b8" stroke="#222" stroke-width="0.5"/><path d="M41.6,553.5 L54.8,553.9 L65.6,554.8 L54.8,555.7 L41.6,556.1 Z" fill="#e070b8" stroke="#222" stroke-width="0.5"/><path d="M41.6,565.8 L54.8,566.2 L65.6,567.1 L54.8,568.0 L41.6,568.4 Z" fill="#e070b8" stroke="#222" stroke-width="0.5"/><path d="M41.6,573.5 L54.8,573.9 L65.6,574.8 L54.8,575.7 L41.6,576.1 Z" fill="#e070b8" stroke="#222" stroke-width="0.5"/><line x1="0" y1="524.5" x2="80" y2="524.5" stroke="#222" stroke-width="0.9" stroke-dasharray="2.2,2"/></g>
<circle cx="39.2" cy="541.5" r="38.5" fill="none" stroke="#222" stroke-width="1"/>
<polyline points="77.7,541.7 86,541.7 139,489.6 165.3,489.6" fill="none" stroke="#2a2a2a" stroke-width="1"/>
<defs><radialGradient id="shadow" cx="0.5" cy="0.5" r="0.5"><stop offset="0" stop-color="#6e6078" stop-opacity="0.55"/><stop offset="0.45" stop-color="#8c8096" stop-opacity="0.35"/><stop offset="0.8" stop-color="#b0a8b8" stop-opacity="0.1"/><stop offset="1" stop-color="#ffffff" stop-opacity="0"/></radialGradient><radialGradient id="ball" cx="0.35" cy="0.35" r="0.7"><stop offset="0" stop-color="#f6b0a8"/><stop offset="0.45" stop-color="#dc3a34"/><stop offset="1" stop-color="#b01c1c"/></radialGradient></defs>
<path d="M587.7,436 L681.5,436 L670,520.4 L542.9,520.4 Z" fill="#c5c5c7" stroke="#8e8e90" stroke-width="0.8"/>
<ellipse cx="624.5" cy="520" rx="58" ry="30" fill="url(#shadow)"/>
<ellipse cx="625.8" cy="480.9" rx="32.8" ry="12.7" fill="none" stroke="#1ba3dd" stroke-width="1.1"/>
<path d="M607.2,484 C599,476 594,463 594.2,452 L594.4,436" fill="none" stroke="#111" stroke-width="1.5"/>
<path d="M589.2,387.4 L685,387.4 L685,389 L676,441 L545.2,441 Z" fill="#c6c6c8" fill-opacity="0.93" stroke="#8e8e90" stroke-width="0.8"/>
<path d="M594.4,441 C594.5,432 596.5,425 602.5,419.5" fill="none" stroke="#8f8f8f" stroke-width="1.3"/>
<path d="M606.9,416.3 L599.8,419.2 L604.2,423.4 Z" fill="#8f8f8f"/>
<ellipse cx="626.8" cy="415.2" rx="32.6" ry="12.5" fill="none" stroke="#a8379f" stroke-width="1.1"/>
<line x1="627.3" y1="347.3" x2="627.3" y2="415.8" stroke="#111" stroke-width="1"/>
<line x1="658.7" y1="347.3" x2="658.7" y2="415.8" stroke="#111" stroke-width="1"/>
<line x1="627.3" y1="415.6" x2="655" y2="415.6" stroke="#111" stroke-width="1"/>
<path d="M659.2,415.6 L653.5,413.5 L653.5,417.7 Z" fill="#111"/>
<line x1="630" y1="369.4" x2="637" y2="369.4" stroke="#111" stroke-width="0.9"/>
<line x1="649.5" y1="369.4" x2="656" y2="369.4" stroke="#111" stroke-width="0.9"/>
<path d="M627.5,369.4 L632,367.6 L632,371.2 Z M658.5,369.4 L654,367.6 L654,371.2 Z" fill="#111"/>
<text x="640" y="373" font-size="10" text-anchor="start" fill="#313131" ><tspan font-style="italic">l</tspan><tspan font-size="6.5" dy="2">B</tspan></text>
<circle cx="595.7" cy="462.3" r="5.5" fill="url(#ball)"/>
<text x="591.2" y="465.6" font-size="8.5" fill="#111">e</text><line x1="597.4" y1="460.4" x2="600.2" y2="460.4" stroke="#222" stroke-width="0.8"/>
<text x="508.8" y="456.1" font-size="11" text-anchor="start" fill="#313131" textLength="77.5" lengthAdjust="spacingAndGlyphs">Charge transfer</text>
<text x="509.6" y="468" font-size="11" text-anchor="start" fill="#313131" textLength="76" lengthAdjust="spacingAndGlyphs">at the critical <tspan font-style="italic">D</tspan></text>
<text x="603.1" y="536.9" font-size="10.9" text-anchor="middle" fill="#313131" textLength="159.5" lengthAdjust="spacingAndGlyphs">One charge transferred between</text>
<text x="604.4" y="548" font-size="10.9" text-anchor="middle" fill="#313131" textLength="148.5" lengthAdjust="spacingAndGlyphs">top and bottom Landau orbits</text>
<text x="507.9" y="320.4" font-size="15" text-anchor="start" fill="#111" font-weight="bold">f</text>
</svg>
</div></body></html>
